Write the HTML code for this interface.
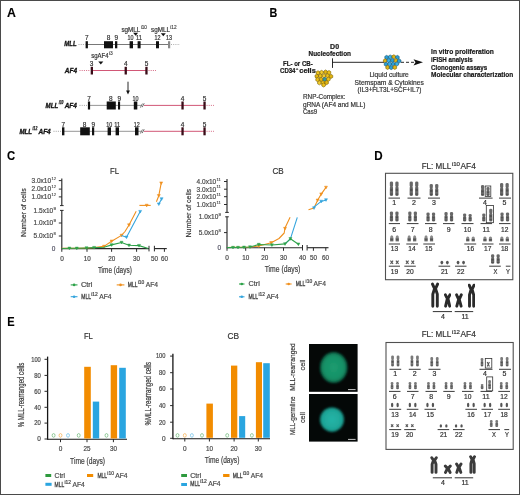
<!DOCTYPE html>
<html><head><meta charset="utf-8"><style>
html,body{margin:0;padding:0;background:#fff;}
#c{position:relative;width:520px;height:495px;overflow:hidden;}
svg{display:block;font-family:"Liberation Sans", sans-serif;filter:blur(0.3px);}
</style></head><body><div id="c">
<svg width="520" height="495" viewBox="0 0 520 495">
<defs><radialGradient id="g1" cx="50%" cy="50%" r="50%"><stop offset="0" stop-color="#1c9c70"/><stop offset="0.75" stop-color="#169066"/><stop offset="1" stop-color="#0b5a40"/></radialGradient><radialGradient id="g2" cx="50%" cy="50%" r="50%"><stop offset="0" stop-color="#25b5a8"/><stop offset="0.8" stop-color="#1ea698"/><stop offset="1" stop-color="#117468"/></radialGradient><filter id="bl" x="-20%" y="-20%" width="140%" height="140%"><feGaussianBlur stdDeviation="0.9"/></filter><filter id="bl2" x="-20%" y="-20%" width="140%" height="140%"><feGaussianBlur stdDeviation="0.55"/></filter><filter id="bl4" x="-30%" y="-30%" width="160%" height="160%"><feGaussianBlur stdDeviation="0.75"/></filter><filter id="bl3" x="-30%" y="-30%" width="160%" height="160%"><feGaussianBlur stdDeviation="0.3"/></filter></defs>
<rect x="0" y="0" width="520" height="495" fill="#fff"/>
<text x="6.90" y="16.80" font-size="12" font-weight="bold" fill="#000" stroke="#000" stroke-width="0.1" textLength="8.9" lengthAdjust="spacingAndGlyphs" >A</text>
<text x="64.30" y="46.00" font-size="7.6" font-weight="bold" font-style="italic" fill="#111" stroke="#111" stroke-width="0.35" textLength="12.3" lengthAdjust="spacingAndGlyphs" >MLL</text>
<line x1="78.5" y1="44.5" x2="85.5" y2="44.5" stroke="#888" stroke-width="0.8" stroke-dasharray="1,1.2"/>
<line x1="87" y1="44.5" x2="168" y2="44.5" stroke="#555" stroke-width="0.8" />
<line x1="171" y1="44.5" x2="180" y2="44.5" stroke="#999" stroke-width="0.8" stroke-dasharray="1,1.2"/>
<rect x="85.60" y="41.20" width="2.30" height="7.10" fill="#111" />
<rect x="104.00" y="41.20" width="9.00" height="7.10" fill="#111" />
<rect x="115.00" y="41.20" width="2.30" height="7.10" fill="#111" />
<rect x="129.60" y="41.20" width="3.40" height="7.10" fill="#111" />
<rect x="137.60" y="41.20" width="3.00" height="7.10" fill="#111" />
<rect x="156.00" y="41.20" width="3.00" height="7.10" fill="#111" />
<rect x="168.00" y="41.20" width="2.20" height="7.10" fill="#8a8a8a" />
<text x="86.80" y="40.10" font-size="6.8" text-anchor="middle" fill="#333" stroke="#333" stroke-width="0.2" textLength="3.6" lengthAdjust="spacingAndGlyphs" >7</text>
<text x="108.60" y="40.10" font-size="6.8" text-anchor="middle" fill="#333" stroke="#333" stroke-width="0.2" textLength="3.6" lengthAdjust="spacingAndGlyphs" >8</text>
<text x="116.20" y="40.10" font-size="6.8" text-anchor="middle" fill="#333" stroke="#333" stroke-width="0.2" textLength="3.6" lengthAdjust="spacingAndGlyphs" >9</text>
<text x="130.60" y="40.10" font-size="6.8" text-anchor="middle" fill="#333" stroke="#333" stroke-width="0.2" textLength="6.0" lengthAdjust="spacingAndGlyphs" >10</text>
<text x="139.00" y="40.10" font-size="6.8" text-anchor="middle" fill="#333" stroke="#333" stroke-width="0.2" textLength="6.0" lengthAdjust="spacingAndGlyphs" >11</text>
<text x="157.50" y="40.10" font-size="6.8" text-anchor="middle" fill="#333" stroke="#333" stroke-width="0.2" textLength="6.0" lengthAdjust="spacingAndGlyphs" >12</text>
<text x="168.90" y="40.10" font-size="6.8" text-anchor="middle" fill="#333" stroke="#333" stroke-width="0.2" textLength="6.0" lengthAdjust="spacingAndGlyphs" >13</text>
<text x="121.40" y="32.10" font-size="6.8" fill="#333" stroke="#333" stroke-width="0.2" textLength="18.9" lengthAdjust="spacingAndGlyphs" >sgMLL</text>
<text x="140.70" y="28.90" font-size="4.8" fill="#444" stroke="#444" stroke-width="0.15" textLength="6.3" lengthAdjust="spacingAndGlyphs" >i10</text>
<text x="151.00" y="32.10" font-size="6.8" fill="#333" stroke="#333" stroke-width="0.2" textLength="18.9" lengthAdjust="spacingAndGlyphs" >sgMLL</text>
<text x="170.30" y="28.90" font-size="4.8" fill="#444" stroke="#444" stroke-width="0.15" textLength="6.3" lengthAdjust="spacingAndGlyphs" >i12</text>
<path d="M133.1 32.7 L138.1 32.7 L135.6 35.8 Z" fill="#111"/>
<path d="M160.8 33.2 L165.8 33.2 L163.3 36.2 Z" fill="#111"/>
<text x="64.80" y="72.50" font-size="7.6" font-weight="bold" font-style="italic" fill="#111" stroke="#111" stroke-width="0.35" textLength="12.2" lengthAdjust="spacingAndGlyphs" >AF4</text>
<line x1="79.5" y1="70.5" x2="90" y2="70.5" stroke="#cc4466" stroke-width="0.8" stroke-dasharray="1,1.2"/>
<line x1="91" y1="70.5" x2="147" y2="70.5" stroke="#cc4466" stroke-width="0.9" />
<line x1="148.5" y1="70.5" x2="156" y2="70.5" stroke="#cc4466" stroke-width="0.8" stroke-dasharray="1,1.2"/>
<rect x="90.70" y="66.80" width="2.30" height="7.70" fill="#3a0c18" />
<rect x="124.60" y="66.80" width="2.30" height="7.70" fill="#3a0c18" />
<rect x="145.30" y="66.80" width="2.30" height="7.70" fill="#3a0c18" />
<text x="91.60" y="65.60" font-size="6.8" text-anchor="middle" fill="#333" stroke="#333" stroke-width="0.2" textLength="3.6" lengthAdjust="spacingAndGlyphs" >3</text>
<text x="125.90" y="65.60" font-size="6.8" text-anchor="middle" fill="#333" stroke="#333" stroke-width="0.2" textLength="3.6" lengthAdjust="spacingAndGlyphs" >4</text>
<text x="146.50" y="65.60" font-size="6.8" text-anchor="middle" fill="#333" stroke="#333" stroke-width="0.2" textLength="3.6" lengthAdjust="spacingAndGlyphs" >5</text>
<text x="91.30" y="58.40" font-size="6.8" fill="#333" stroke="#333" stroke-width="0.2" textLength="17.2" lengthAdjust="spacingAndGlyphs" >sgAF4</text>
<text x="108.90" y="55.20" font-size="4.8" fill="#444" stroke="#444" stroke-width="0.15" textLength="3.8" lengthAdjust="spacingAndGlyphs" >i3</text>
<path d="M98.3 61.4 L103.3 61.4 L100.8 64.5 Z" fill="#111"/>
<line x1="128" y1="81.7" x2="128" y2="91.5" stroke="#111" stroke-width="0.9" />
<path d="M126.1 90.4 L129.9 90.4 L128 94.4 Z" fill="#111"/>
<text x="45.60" y="107.60" font-size="7.6" font-weight="bold" font-style="italic" fill="#111" stroke="#111" stroke-width="0.35" textLength="12.6" lengthAdjust="spacingAndGlyphs" >MLL</text>
<text x="58.70" y="104.20" font-size="4.8" font-weight="bold" font-style="italic" fill="#222" stroke="#222" stroke-width="0.25" textLength="4.8" lengthAdjust="spacingAndGlyphs" >i10</text>
<text x="64.70" y="107.60" font-size="7.6" font-weight="bold" font-style="italic" fill="#111" stroke="#111" stroke-width="0.35" textLength="12.2" lengthAdjust="spacingAndGlyphs" >AF4</text>
<line x1="79.5" y1="105.4" x2="87" y2="105.4" stroke="#888" stroke-width="0.8" stroke-dasharray="1,1.2"/>
<line x1="88" y1="105.4" x2="141" y2="105.4" stroke="#8a8a8a" stroke-width="0.9" />
<line x1="144" y1="105.4" x2="205" y2="105.4" stroke="#cc4466" stroke-width="0.9" />
<line x1="206.5" y1="105.4" x2="214" y2="105.4" stroke="#cc4466" stroke-width="0.8" stroke-dasharray="1,1.2"/>
<rect x="87.90" y="101.50" width="2.20" height="8.00" fill="#111" />
<rect x="106.70" y="101.50" width="9.10" height="8.00" fill="#111" />
<rect x="118.00" y="101.50" width="2.10" height="8.00" fill="#111" />
<rect x="133.80" y="101.50" width="3.50" height="8.00" fill="#111" />
<rect x="181.40" y="101.50" width="2.30" height="8.00" fill="#3a0c18" />
<rect x="203.40" y="101.50" width="2.30" height="8.00" fill="#3a0c18" />
<path d="M140.4 107.6 L142.4 103.6 M142.2 107.2 L144.2 103.2" stroke="#333" stroke-width="0.7" fill="none"/>
<text x="89.00" y="100.90" font-size="6.8" text-anchor="middle" fill="#333" stroke="#333" stroke-width="0.2" textLength="3.6" lengthAdjust="spacingAndGlyphs" >7</text>
<text x="110.80" y="100.90" font-size="6.8" text-anchor="middle" fill="#333" stroke="#333" stroke-width="0.2" textLength="3.6" lengthAdjust="spacingAndGlyphs" >8</text>
<text x="119.20" y="100.90" font-size="6.8" text-anchor="middle" fill="#333" stroke="#333" stroke-width="0.2" textLength="3.6" lengthAdjust="spacingAndGlyphs" >9</text>
<text x="135.60" y="100.90" font-size="6.8" text-anchor="middle" fill="#333" stroke="#333" stroke-width="0.2" textLength="6.0" lengthAdjust="spacingAndGlyphs" >10</text>
<text x="182.50" y="100.90" font-size="6.8" text-anchor="middle" fill="#333" stroke="#333" stroke-width="0.2" textLength="3.6" lengthAdjust="spacingAndGlyphs" >4</text>
<text x="204.50" y="100.90" font-size="6.8" text-anchor="middle" fill="#333" stroke="#333" stroke-width="0.2" textLength="3.6" lengthAdjust="spacingAndGlyphs" >5</text>
<text x="19.40" y="133.50" font-size="7.6" font-weight="bold" font-style="italic" fill="#111" stroke="#111" stroke-width="0.35" textLength="12.6" lengthAdjust="spacingAndGlyphs" >MLL</text>
<text x="32.50" y="130.10" font-size="4.8" font-weight="bold" font-style="italic" fill="#222" stroke="#222" stroke-width="0.25" textLength="4.8" lengthAdjust="spacingAndGlyphs" >i12</text>
<text x="38.50" y="133.50" font-size="7.6" font-weight="bold" font-style="italic" fill="#111" stroke="#111" stroke-width="0.35" textLength="12.2" lengthAdjust="spacingAndGlyphs" >AF4</text>
<line x1="53.5" y1="131.3" x2="61.5" y2="131.3" stroke="#888" stroke-width="0.8" stroke-dasharray="1,1.2"/>
<line x1="62" y1="131.3" x2="141" y2="131.3" stroke="#8a8a8a" stroke-width="0.9" />
<line x1="144" y1="131.3" x2="205" y2="131.3" stroke="#cc4466" stroke-width="0.9" />
<line x1="206.5" y1="131.3" x2="214" y2="131.3" stroke="#cc4466" stroke-width="0.8" stroke-dasharray="1,1.2"/>
<rect x="62.00" y="127.30" width="2.40" height="8.00" fill="#111" />
<rect x="80.20" y="127.30" width="9.60" height="8.00" fill="#111" />
<rect x="92.00" y="127.30" width="2.20" height="8.00" fill="#111" />
<rect x="107.60" y="127.30" width="3.40" height="8.00" fill="#111" />
<rect x="115.60" y="127.30" width="3.40" height="8.00" fill="#111" />
<rect x="135.00" y="127.30" width="3.50" height="8.00" fill="#111" />
<rect x="181.40" y="127.30" width="2.30" height="8.00" fill="#3a0c18" />
<rect x="203.40" y="127.30" width="2.30" height="8.00" fill="#3a0c18" />
<path d="M140.4 133.5 L142.4 129.5 M142.2 133.1 L144.2 129.1" stroke="#333" stroke-width="0.7" fill="none"/>
<text x="63.20" y="126.80" font-size="6.8" text-anchor="middle" fill="#333" stroke="#333" stroke-width="0.2" textLength="3.6" lengthAdjust="spacingAndGlyphs" >7</text>
<text x="84.60" y="126.80" font-size="6.8" text-anchor="middle" fill="#333" stroke="#333" stroke-width="0.2" textLength="3.6" lengthAdjust="spacingAndGlyphs" >8</text>
<text x="93.20" y="126.80" font-size="6.8" text-anchor="middle" fill="#333" stroke="#333" stroke-width="0.2" textLength="3.6" lengthAdjust="spacingAndGlyphs" >9</text>
<text x="109.30" y="126.80" font-size="6.8" text-anchor="middle" fill="#333" stroke="#333" stroke-width="0.2" textLength="6.0" lengthAdjust="spacingAndGlyphs" >10</text>
<text x="117.30" y="126.80" font-size="6.8" text-anchor="middle" fill="#333" stroke="#333" stroke-width="0.2" textLength="6.0" lengthAdjust="spacingAndGlyphs" >11</text>
<text x="136.80" y="126.80" font-size="6.8" text-anchor="middle" fill="#333" stroke="#333" stroke-width="0.2" textLength="6.0" lengthAdjust="spacingAndGlyphs" >12</text>
<text x="182.50" y="126.80" font-size="6.8" text-anchor="middle" fill="#333" stroke="#333" stroke-width="0.2" textLength="3.6" lengthAdjust="spacingAndGlyphs" >4</text>
<text x="204.50" y="126.80" font-size="6.8" text-anchor="middle" fill="#333" stroke="#333" stroke-width="0.2" textLength="3.6" lengthAdjust="spacingAndGlyphs" >5</text>
<text x="269.60" y="16.70" font-size="12" font-weight="bold" fill="#000" stroke="#000" stroke-width="0.1" textLength="7.8" lengthAdjust="spacingAndGlyphs" >B</text>
<text x="334.60" y="48.60" font-size="7" text-anchor="middle" font-weight="bold" fill="#1a1a1a" stroke="#1a1a1a" stroke-width="0.22" textLength="9" lengthAdjust="spacingAndGlyphs" >D0</text>
<text x="308.50" y="56.40" font-size="7" font-weight="bold" fill="#1a1a1a" stroke="#1a1a1a" stroke-width="0.22" textLength="42.5" lengthAdjust="spacingAndGlyphs" >Nucleofection</text>
<text x="283.00" y="66.00" font-size="7" font-weight="bold" fill="#1a1a1a" stroke="#1a1a1a" stroke-width="0.22" textLength="29.7" lengthAdjust="spacingAndGlyphs" >FL- or CB-</text>
<text x="280.00" y="73.30" font-size="7" font-weight="bold" fill="#1a1a1a" stroke="#1a1a1a" stroke-width="0.22" textLength="15.5" lengthAdjust="spacingAndGlyphs" >CD34</text>
<text x="295.80" y="70.00" font-size="4.4" font-weight="bold" fill="#1a1a1a" stroke="#1a1a1a" stroke-width="0.15" >+</text>
<text x="299.30" y="73.30" font-size="7" font-weight="bold" fill="#1a1a1a" stroke="#1a1a1a" stroke-width="0.22" textLength="16.5" lengthAdjust="spacingAndGlyphs" >cells</text>
<line x1="332.5" y1="58.3" x2="332.5" y2="67.9" stroke="#111" stroke-width="0.9" />
<line x1="332.5" y1="62.3" x2="384" y2="62.3" stroke="#111" stroke-width="0.9" />
<path d="M401 62.3 L414 62.3" stroke="#111" stroke-width="0.9" stroke-dasharray="3,2"/>
<path d="M413.5 59.2 L423 62.3 L413.5 65.4 L415.5 62.3 Z" fill="#111"/>
<text x="303.00" y="99.10" font-size="7" fill="#333" stroke="#333" stroke-width="0.2" textLength="42.4" lengthAdjust="spacingAndGlyphs" >RNP-Complex:</text>
<text x="303.00" y="106.60" font-size="7" fill="#333" stroke="#333" stroke-width="0.2" textLength="62.4" lengthAdjust="spacingAndGlyphs" >gRNA (AF4 and MLL)</text>
<text x="303.00" y="113.70" font-size="7" fill="#333" stroke="#333" stroke-width="0.2" textLength="14" lengthAdjust="spacingAndGlyphs" >Cas9</text>
<text x="389.10" y="76.90" font-size="7" text-anchor="middle" fill="#333" stroke="#333" stroke-width="0.2" textLength="39.4" lengthAdjust="spacingAndGlyphs" >Liquid culture</text>
<text x="389.20" y="85.00" font-size="7" text-anchor="middle" fill="#333" stroke="#333" stroke-width="0.2" textLength="69.2" lengthAdjust="spacingAndGlyphs" >Stemspam &amp; Cytokines</text>
<text x="389.40" y="92.30" font-size="7" text-anchor="middle" fill="#333" stroke="#333" stroke-width="0.2" textLength="63.8" lengthAdjust="spacingAndGlyphs" >(IL3+FLT3L+SCF+IL7)</text>
<text x="431.10" y="53.80" font-size="7.2" font-weight="bold" fill="#1a1a1a" stroke="#1a1a1a" stroke-width="0.22" textLength="62.8" lengthAdjust="spacingAndGlyphs" >In vitro proliferation</text>
<text x="431.10" y="61.65" font-size="7.2" font-weight="bold" fill="#1a1a1a" stroke="#1a1a1a" stroke-width="0.22" textLength="41.7" lengthAdjust="spacingAndGlyphs" >iFISH analysis</text>
<text x="431.10" y="69.50" font-size="7.2" font-weight="bold" fill="#1a1a1a" stroke="#1a1a1a" stroke-width="0.22" textLength="56.1" lengthAdjust="spacingAndGlyphs" >Clonogenic assays</text>
<text x="431.10" y="77.35" font-size="7.2" font-weight="bold" fill="#1a1a1a" stroke="#1a1a1a" stroke-width="0.22" textLength="82.1" lengthAdjust="spacingAndGlyphs" >Molecular characterization</text>
<polygon points="319.78,73.83 318.00,74.85 316.22,73.83 316.22,71.77 318.00,70.75 319.78,71.77" fill="#eec21a" stroke="#7a6200" stroke-width="0.6"/>
<polygon points="323.38,73.43 321.60,74.45 319.82,73.43 319.82,71.38 321.60,70.35 323.38,71.38" fill="#f2cc30" stroke="#7a6200" stroke-width="0.6"/>
<polygon points="327.38,73.03 325.60,74.05 323.82,73.03 323.82,70.97 325.60,69.95 327.38,70.97" fill="#e2b410" stroke="#7a6200" stroke-width="0.6"/>
<polygon points="330.78,73.62 329.00,74.65 327.22,73.62 327.22,71.57 329.00,70.55 330.78,71.57" fill="#eec21a" stroke="#7a6200" stroke-width="0.6"/>
<polygon points="318.58,77.23 316.80,78.25 315.02,77.23 315.02,75.17 316.80,74.15 318.58,75.17" fill="#e2b410" stroke="#7a6200" stroke-width="0.6"/>
<polygon points="322.18,77.03 320.40,78.05 318.62,77.03 318.62,74.97 320.40,73.95 322.18,74.97" fill="#eec21a" stroke="#7a6200" stroke-width="0.6"/>
<polygon points="325.78,76.83 324.00,77.85 322.22,76.83 322.22,74.77 324.00,73.75 325.78,74.77" fill="#f2cc30" stroke="#7a6200" stroke-width="0.6"/>
<polygon points="329.38,76.83 327.60,77.85 325.82,76.83 325.82,74.77 327.60,73.75 329.38,74.77" fill="#eec21a" stroke="#7a6200" stroke-width="0.6"/>
<polygon points="332.78,77.43 331.00,78.45 329.22,77.43 329.22,75.38 331.00,74.35 332.78,75.38" fill="#e2b410" stroke="#7a6200" stroke-width="0.6"/>
<polygon points="319.38,80.62 317.60,81.65 315.82,80.62 315.82,78.57 317.60,77.55 319.38,78.57" fill="#eec21a" stroke="#7a6200" stroke-width="0.6"/>
<polygon points="322.98,80.43 321.20,81.45 319.42,80.43 319.42,78.38 321.20,77.35 322.98,78.38" fill="#e2b410" stroke="#7a6200" stroke-width="0.6"/>
<polygon points="326.58,80.43 324.80,81.45 323.02,80.43 323.02,78.38 324.80,77.35 326.58,78.38" fill="#3a9a9a" stroke="#1a5a7a" stroke-width="0.6"/>
<polygon points="330.18,80.23 328.40,81.25 326.62,80.23 326.62,78.17 328.40,77.15 330.18,78.17" fill="#eec21a" stroke="#7a6200" stroke-width="0.6"/>
<polygon points="321.18,83.83 319.40,84.85 317.62,83.83 317.62,81.77 319.40,80.75 321.18,81.77" fill="#f2cc30" stroke="#7a6200" stroke-width="0.6"/>
<polygon points="324.78,83.83 323.00,84.85 321.22,83.83 321.22,81.77 323.00,80.75 324.78,81.77" fill="#eec21a" stroke="#7a6200" stroke-width="0.6"/>
<polygon points="328.38,83.62 326.60,84.65 324.82,83.62 324.82,81.57 326.60,80.55 328.38,81.57" fill="#e2b410" stroke="#7a6200" stroke-width="0.6"/>
<polygon points="325.38,86.03 323.60,87.05 321.82,86.03 321.82,83.97 323.60,82.95 325.38,83.97" fill="#eec21a" stroke="#7a6200" stroke-width="0.6"/>
<polygon points="388.38,58.42 386.60,59.45 384.82,58.42 384.82,56.38 386.60,55.35 388.38,56.38" fill="#2a9fd6" stroke="#1a5a7a" stroke-width="0.6"/>
<polygon points="391.98,58.02 390.20,59.05 388.42,58.02 388.42,55.98 390.20,54.95 391.98,55.98" fill="#3ab0e4" stroke="#1a5a7a" stroke-width="0.6"/>
<polygon points="395.58,57.82 393.80,58.85 392.02,57.82 392.02,55.77 393.80,54.75 395.58,55.77" fill="#dcb418" stroke="#7a6200" stroke-width="0.6"/>
<polygon points="399.18,58.42 397.40,59.45 395.62,58.42 395.62,56.38 397.40,55.35 399.18,56.38" fill="#2a9fd6" stroke="#1a5a7a" stroke-width="0.6"/>
<polygon points="386.98,61.82 385.20,62.85 383.42,61.82 383.42,59.77 385.20,58.75 386.98,59.77" fill="#dcb418" stroke="#7a6200" stroke-width="0.6"/>
<polygon points="390.58,61.62 388.80,62.65 387.02,61.62 387.02,59.58 388.80,58.55 390.58,59.58" fill="#3ab0e4" stroke="#1a5a7a" stroke-width="0.6"/>
<polygon points="394.18,61.42 392.40,62.45 390.62,61.42 390.62,59.38 392.40,58.35 394.18,59.38" fill="#2a9fd6" stroke="#1a5a7a" stroke-width="0.6"/>
<polygon points="397.78,61.62 396.00,62.65 394.22,61.62 394.22,59.58 396.00,58.55 397.78,59.58" fill="#dcb418" stroke="#7a6200" stroke-width="0.6"/>
<polygon points="400.98,62.02 399.20,63.05 397.42,62.02 397.42,59.98 399.20,58.95 400.98,59.98" fill="#2a9fd6" stroke="#1a5a7a" stroke-width="0.6"/>
<polygon points="387.78,65.23 386.00,66.25 384.22,65.23 384.22,63.18 386.00,62.15 387.78,63.18" fill="#2a9fd6" stroke="#1a5a7a" stroke-width="0.6"/>
<polygon points="391.38,65.03 389.60,66.05 387.82,65.03 387.82,62.98 389.60,61.95 391.38,62.98" fill="#3ab0e4" stroke="#1a5a7a" stroke-width="0.6"/>
<polygon points="394.98,65.03 393.20,66.05 391.42,65.03 391.42,62.98 393.20,61.95 394.98,62.98" fill="#2a9fd6" stroke="#1a5a7a" stroke-width="0.6"/>
<polygon points="398.58,65.03 396.80,66.05 395.02,65.03 395.02,62.98 396.80,61.95 398.58,62.98" fill="#3ab0e4" stroke="#1a5a7a" stroke-width="0.6"/>
<polygon points="389.38,68.43 387.60,69.45 385.82,68.43 385.82,66.38 387.60,65.35 389.38,66.38" fill="#dcb418" stroke="#7a6200" stroke-width="0.6"/>
<polygon points="392.98,68.62 391.20,69.65 389.42,68.62 389.42,66.57 391.20,65.55 392.98,66.57" fill="#2a9fd6" stroke="#1a5a7a" stroke-width="0.6"/>
<polygon points="396.58,68.43 394.80,69.45 393.02,68.43 393.02,66.38 394.80,65.35 396.58,66.38" fill="#dcb418" stroke="#7a6200" stroke-width="0.6"/>
<text x="6.90" y="160.00" font-size="12" font-weight="bold" fill="#000" stroke="#000" stroke-width="0.1" textLength="8.2" lengthAdjust="spacingAndGlyphs" >C</text>
<text x="114.60" y="173.60" font-size="9.5" text-anchor="middle" fill="#333" stroke="#333" stroke-width="0.2" textLength="9" lengthAdjust="spacingAndGlyphs" >FL</text>
<line x1="61.8" y1="178.6" x2="61.8" y2="205.5" stroke="#2a2a2a" stroke-width="1.15" />
<line x1="60" y1="205.6" x2="63.6" y2="205.6" stroke="#2a2a2a" stroke-width="1" />
<line x1="58.8" y1="180.6" x2="61.8" y2="180.6" stroke="#2a2a2a" stroke-width="1" />
<line x1="58.8" y1="189.1" x2="61.8" y2="189.1" stroke="#2a2a2a" stroke-width="1" />
<line x1="58.8" y1="196.9" x2="61.8" y2="196.9" stroke="#2a2a2a" stroke-width="1" />
<line x1="61.8" y1="210.4" x2="61.8" y2="249.2" stroke="#2a2a2a" stroke-width="1.15" />
<line x1="60" y1="210.4" x2="63.6" y2="210.4" stroke="#2a2a2a" stroke-width="1" />
<line x1="58.8" y1="223" x2="61.8" y2="223" stroke="#2a2a2a" stroke-width="1" />
<line x1="58.8" y1="236" x2="61.8" y2="236" stroke="#2a2a2a" stroke-width="1" />
<text x="51.10" y="182.90" font-size="6.8" text-anchor="end" fill="#4a4a4a" stroke="#4a4a4a" stroke-width="0.2" textLength="19.6" lengthAdjust="spacingAndGlyphs" >3.0x10</text>
<text x="51.40" y="179.80" font-size="4.2" fill="#4a4a4a" stroke="#4a4a4a" stroke-width="0.15" textLength="4.5" lengthAdjust="spacingAndGlyphs" >12</text>
<text x="51.10" y="191.40" font-size="6.8" text-anchor="end" fill="#4a4a4a" stroke="#4a4a4a" stroke-width="0.2" textLength="19.6" lengthAdjust="spacingAndGlyphs" >2.0x10</text>
<text x="51.40" y="188.30" font-size="4.2" fill="#4a4a4a" stroke="#4a4a4a" stroke-width="0.15" textLength="4.5" lengthAdjust="spacingAndGlyphs" >12</text>
<text x="51.10" y="199.20" font-size="6.8" text-anchor="end" fill="#4a4a4a" stroke="#4a4a4a" stroke-width="0.2" textLength="19.6" lengthAdjust="spacingAndGlyphs" >1.0x10</text>
<text x="51.40" y="196.10" font-size="4.2" fill="#4a4a4a" stroke="#4a4a4a" stroke-width="0.15" textLength="4.5" lengthAdjust="spacingAndGlyphs" >12</text>
<text x="53.20" y="212.90" font-size="6.8" text-anchor="end" fill="#4a4a4a" stroke="#4a4a4a" stroke-width="0.2" textLength="19.6" lengthAdjust="spacingAndGlyphs" >1.5x10</text>
<text x="53.50" y="209.80" font-size="4.2" fill="#4a4a4a" stroke="#4a4a4a" stroke-width="0.15" textLength="2.4" lengthAdjust="spacingAndGlyphs" >9</text>
<text x="53.20" y="225.30" font-size="6.8" text-anchor="end" fill="#4a4a4a" stroke="#4a4a4a" stroke-width="0.2" textLength="19.6" lengthAdjust="spacingAndGlyphs" >1.0x10</text>
<text x="53.50" y="222.20" font-size="4.2" fill="#4a4a4a" stroke="#4a4a4a" stroke-width="0.15" textLength="2.4" lengthAdjust="spacingAndGlyphs" >9</text>
<text x="53.20" y="238.30" font-size="6.8" text-anchor="end" fill="#4a4a4a" stroke="#4a4a4a" stroke-width="0.2" textLength="19.6" lengthAdjust="spacingAndGlyphs" >5.0x10</text>
<text x="53.50" y="235.20" font-size="4.2" fill="#4a4a4a" stroke="#4a4a4a" stroke-width="0.15" textLength="2.4" lengthAdjust="spacingAndGlyphs" >8</text>
<text x="55.40" y="251.10" font-size="6.8" text-anchor="end" fill="#556" stroke="#556" stroke-width="0.2" textLength="3.6" lengthAdjust="spacingAndGlyphs" >0</text>
<text x="23.10" y="212.60" font-size="8" text-anchor="middle" fill="#3a3a3a" stroke="#3a3a3a" stroke-width="0.2" textLength="48.6" lengthAdjust="spacingAndGlyphs" transform="rotate(-90 23.1 212.6) translate(0 2.9)">Number of cells</text>
<line x1="61.8" y1="248.6" x2="149" y2="248.6" stroke="#2a2a2a" stroke-width="1.15" />
<line x1="149" y1="245.8" x2="149" y2="251.4" stroke="#2a2a2a" stroke-width="1" />
<line x1="154.4" y1="248.6" x2="166.8" y2="248.6" stroke="#2a2a2a" stroke-width="1.15" />
<line x1="154.4" y1="245.8" x2="154.4" y2="251.4" stroke="#2a2a2a" stroke-width="1" />
<line x1="61.8" y1="248.6" x2="61.8" y2="251.8" stroke="#2a2a2a" stroke-width="1" />
<line x1="87" y1="248.6" x2="87" y2="251.8" stroke="#2a2a2a" stroke-width="1" />
<line x1="111.6" y1="248.6" x2="111.6" y2="251.8" stroke="#2a2a2a" stroke-width="1" />
<line x1="136.6" y1="248.6" x2="136.6" y2="251.8" stroke="#2a2a2a" stroke-width="1" />
<line x1="164.4" y1="248.6" x2="164.4" y2="251.8" stroke="#2a2a2a" stroke-width="1" />
<text x="62.00" y="260.60" font-size="6.8" text-anchor="middle" fill="#4a4a4a" stroke="#4a4a4a" stroke-width="0.2" textLength="3.6" lengthAdjust="spacingAndGlyphs" >0</text>
<text x="87.20" y="260.60" font-size="6.8" text-anchor="middle" fill="#4a4a4a" stroke="#4a4a4a" stroke-width="0.2" textLength="7.0" lengthAdjust="spacingAndGlyphs" >10</text>
<text x="111.70" y="260.60" font-size="6.8" text-anchor="middle" fill="#4a4a4a" stroke="#4a4a4a" stroke-width="0.2" textLength="7.0" lengthAdjust="spacingAndGlyphs" >20</text>
<text x="136.40" y="260.60" font-size="6.8" text-anchor="middle" fill="#4a4a4a" stroke="#4a4a4a" stroke-width="0.2" textLength="7.0" lengthAdjust="spacingAndGlyphs" >30</text>
<text x="154.40" y="260.60" font-size="6.8" text-anchor="middle" fill="#4a4a4a" stroke="#4a4a4a" stroke-width="0.2" textLength="7.0" lengthAdjust="spacingAndGlyphs" >50</text>
<text x="164.40" y="260.60" font-size="6.8" text-anchor="middle" fill="#4a4a4a" stroke="#4a4a4a" stroke-width="0.2" textLength="7.0" lengthAdjust="spacingAndGlyphs" >60</text>
<text x="114.85" y="272.90" font-size="8.8" text-anchor="middle" fill="#404040" stroke="#404040" stroke-width="0.2" textLength="33.9" lengthAdjust="spacingAndGlyphs" >Time (days)</text>
<polyline points="61.8,248.4 69.4,248.3 76.8,248.3 86.5,248 94.1,247.6 104,246.4 111.6,241.2 121.5,235.4 125,231.5 129,225 136.2,211.3" fill="none" stroke="#f0901e" stroke-width="1.1" stroke-linejoin="round"/>
<path d="M102.50 245.20 L105.50 245.20 L104.00 247.90 Z" fill="#f0901e" stroke="#f0901e" stroke-width="0.5" stroke-linejoin="round"/>
<path d="M110.10 240.00 L113.10 240.00 L111.60 242.70 Z" fill="#f0901e" stroke="#f0901e" stroke-width="0.5" stroke-linejoin="round"/>
<path d="M120.00 234.20 L123.00 234.20 L121.50 236.90 Z" fill="#f0901e" stroke="#f0901e" stroke-width="0.5" stroke-linejoin="round"/>
<path d="M127.50 223.80 L130.50 223.80 L129.00 226.50 Z" fill="#f0901e" stroke="#f0901e" stroke-width="0.5" stroke-linejoin="round"/>
<polyline points="121.5,235.4 126.5,237.2 140.2,211.6" fill="none" stroke="#35a5dd" stroke-width="1.1" stroke-linejoin="round"/>
<path d="M125.00 236.00 L128.00 236.00 L126.50 238.70 Z" fill="#35a5dd" stroke="#35a5dd" stroke-width="0.5" stroke-linejoin="round"/>
<path d="M138.70 210.40 L141.70 210.40 L140.20 213.10 Z" fill="#35a5dd" stroke="#35a5dd" stroke-width="0.5" stroke-linejoin="round"/>
<polyline points="61.8,248.5 69.4,248.3 76.8,248.3 86.5,248 94.1,247.6 104,247.2 111.6,244.9 121.5,242.5 129,245.3 139,245.6 148.3,248.5" fill="none" stroke="#2ea24a" stroke-width="1.1" stroke-linejoin="round"/>
<path d="M67.90 247.10 L70.90 247.10 L69.40 249.80 Z" fill="#2ea24a" stroke="#2ea24a" stroke-width="0.5" stroke-linejoin="round"/>
<path d="M75.30 247.10 L78.30 247.10 L76.80 249.80 Z" fill="#2ea24a" stroke="#2ea24a" stroke-width="0.5" stroke-linejoin="round"/>
<path d="M85.00 246.80 L88.00 246.80 L86.50 249.50 Z" fill="#2ea24a" stroke="#2ea24a" stroke-width="0.5" stroke-linejoin="round"/>
<path d="M92.60 246.40 L95.60 246.40 L94.10 249.10 Z" fill="#2ea24a" stroke="#2ea24a" stroke-width="0.5" stroke-linejoin="round"/>
<path d="M110.10 243.70 L113.10 243.70 L111.60 246.40 Z" fill="#2ea24a" stroke="#2ea24a" stroke-width="0.5" stroke-linejoin="round"/>
<path d="M120.00 241.30 L123.00 241.30 L121.50 244.00 Z" fill="#2ea24a" stroke="#2ea24a" stroke-width="0.5" stroke-linejoin="round"/>
<path d="M127.50 244.10 L130.50 244.10 L129.00 246.80 Z" fill="#2ea24a" stroke="#2ea24a" stroke-width="0.5" stroke-linejoin="round"/>
<path d="M137.50 244.40 L140.50 244.40 L139.00 247.10 Z" fill="#2ea24a" stroke="#2ea24a" stroke-width="0.5" stroke-linejoin="round"/>
<polyline points="139.4,205.4 150.7,205.4" fill="none" stroke="#f0901e" stroke-width="1.1" stroke-linejoin="round"/>
<path d="M145.20 204.20 L148.20 204.20 L146.70 206.90 Z" fill="#f0901e" stroke="#f0901e" stroke-width="0.5" stroke-linejoin="round"/>
<polyline points="156.4,201.7 158.8,195.7 161.2,183.1" fill="none" stroke="#f0901e" stroke-width="1.1" stroke-linejoin="round"/>
<path d="M157.30 194.50 L160.30 194.50 L158.80 197.20 Z" fill="#f0901e" stroke="#f0901e" stroke-width="0.5" stroke-linejoin="round"/>
<path d="M159.70 181.90 L162.70 181.90 L161.20 184.60 Z" fill="#f0901e" stroke="#f0901e" stroke-width="0.5" stroke-linejoin="round"/>
<polyline points="158.8,204.1 161.6,198.9" fill="none" stroke="#35a5dd" stroke-width="1.1" stroke-linejoin="round"/>
<path d="M157.30 202.90 L160.30 202.90 L158.80 205.60 Z" fill="#35a5dd" stroke="#35a5dd" stroke-width="0.5" stroke-linejoin="round"/>
<path d="M160.10 197.70 L163.10 197.70 L161.60 200.40 Z" fill="#35a5dd" stroke="#35a5dd" stroke-width="0.5" stroke-linejoin="round"/>
<line x1="70.7" y1="284.9" x2="77.5" y2="284.9" stroke="#2ea24a" stroke-width="1.1" />
<circle cx="74.1" cy="284.9" r="1.3" fill="#2ea24a"/>
<text x="80.90" y="286.70" font-size="7" fill="#4a4a4a" stroke="#4a4a4a" stroke-width="0.2" textLength="11.6" lengthAdjust="spacingAndGlyphs" >Ctrl</text>
<line x1="116.7" y1="284.9" x2="124.4" y2="284.9" stroke="#f0901e" stroke-width="1.1" />
<circle cx="120.55000000000001" cy="284.9" r="1.3" fill="#f0901e"/>
<text x="127.80" y="286.70" font-size="7" fill="#4a4a4a" stroke="#4a4a4a" stroke-width="0.38" textLength="9.6" lengthAdjust="spacingAndGlyphs" >MLL</text>
<text x="137.70" y="283.70" font-size="4.8" fill="#4a4a4a" stroke="#4a4a4a" stroke-width="0.22" textLength="6.6" lengthAdjust="spacingAndGlyphs" >i10</text>
<text x="145.70" y="286.70" font-size="7" fill="#4a4a4a" stroke="#4a4a4a" stroke-width="0.2" textLength="12.3" lengthAdjust="spacingAndGlyphs" >AF4</text>
<line x1="70.7" y1="296.7" x2="77.5" y2="296.7" stroke="#35a5dd" stroke-width="1.1" />
<circle cx="74.1" cy="296.7" r="1.3" fill="#35a5dd"/>
<text x="81.30" y="298.80" font-size="7" fill="#4a4a4a" stroke="#4a4a4a" stroke-width="0.38" textLength="9.6" lengthAdjust="spacingAndGlyphs" >MLL</text>
<text x="91.20" y="295.80" font-size="4.8" fill="#4a4a4a" stroke="#4a4a4a" stroke-width="0.22" textLength="6.6" lengthAdjust="spacingAndGlyphs" >i12</text>
<text x="99.20" y="298.80" font-size="7" fill="#4a4a4a" stroke="#4a4a4a" stroke-width="0.2" textLength="12.3" lengthAdjust="spacingAndGlyphs" >AF4</text>
<text x="278.10" y="174.20" font-size="9.5" text-anchor="middle" fill="#333" stroke="#333" stroke-width="0.2" textLength="11.2" lengthAdjust="spacingAndGlyphs" >CB</text>
<line x1="227" y1="179.0" x2="227" y2="212.4" stroke="#2a2a2a" stroke-width="1.15" />
<line x1="225.2" y1="212.4" x2="228.8" y2="212.4" stroke="#2a2a2a" stroke-width="1" />
<line x1="224" y1="181.5" x2="227" y2="181.5" stroke="#2a2a2a" stroke-width="1" />
<line x1="224" y1="189.2" x2="227" y2="189.2" stroke="#2a2a2a" stroke-width="1" />
<line x1="224" y1="196.7" x2="227" y2="196.7" stroke="#2a2a2a" stroke-width="1" />
<line x1="224" y1="204.5" x2="227" y2="204.5" stroke="#2a2a2a" stroke-width="1" />
<line x1="227" y1="216.8" x2="227" y2="248.2" stroke="#2a2a2a" stroke-width="1.15" />
<line x1="225.2" y1="216.8" x2="228.8" y2="216.8" stroke="#2a2a2a" stroke-width="1" />
<line x1="224" y1="232.6" x2="227" y2="232.6" stroke="#2a2a2a" stroke-width="1" />
<text x="216.20" y="183.80" font-size="6.8" text-anchor="end" fill="#4a4a4a" stroke="#4a4a4a" stroke-width="0.2" textLength="19.6" lengthAdjust="spacingAndGlyphs" >4.0x10</text>
<text x="216.50" y="180.70" font-size="4.2" fill="#4a4a4a" stroke="#4a4a4a" stroke-width="0.15" textLength="4.5" lengthAdjust="spacingAndGlyphs" >11</text>
<text x="216.20" y="191.50" font-size="6.8" text-anchor="end" fill="#4a4a4a" stroke="#4a4a4a" stroke-width="0.2" textLength="19.6" lengthAdjust="spacingAndGlyphs" >3.0x10</text>
<text x="216.50" y="188.40" font-size="4.2" fill="#4a4a4a" stroke="#4a4a4a" stroke-width="0.15" textLength="4.5" lengthAdjust="spacingAndGlyphs" >11</text>
<text x="216.20" y="199.00" font-size="6.8" text-anchor="end" fill="#4a4a4a" stroke="#4a4a4a" stroke-width="0.2" textLength="19.6" lengthAdjust="spacingAndGlyphs" >2.0x10</text>
<text x="216.50" y="195.90" font-size="4.2" fill="#4a4a4a" stroke="#4a4a4a" stroke-width="0.15" textLength="4.5" lengthAdjust="spacingAndGlyphs" >11</text>
<text x="216.20" y="206.80" font-size="6.8" text-anchor="end" fill="#4a4a4a" stroke="#4a4a4a" stroke-width="0.2" textLength="19.6" lengthAdjust="spacingAndGlyphs" >1.0x10</text>
<text x="216.50" y="203.70" font-size="4.2" fill="#4a4a4a" stroke="#4a4a4a" stroke-width="0.15" textLength="4.5" lengthAdjust="spacingAndGlyphs" >11</text>
<text x="218.30" y="219.30" font-size="6.8" text-anchor="end" fill="#4a4a4a" stroke="#4a4a4a" stroke-width="0.2" textLength="19.6" lengthAdjust="spacingAndGlyphs" >1.0x10</text>
<text x="218.60" y="216.20" font-size="4.2" fill="#4a4a4a" stroke="#4a4a4a" stroke-width="0.15" textLength="2.4" lengthAdjust="spacingAndGlyphs" >9</text>
<text x="218.30" y="234.90" font-size="6.8" text-anchor="end" fill="#4a4a4a" stroke="#4a4a4a" stroke-width="0.2" textLength="19.6" lengthAdjust="spacingAndGlyphs" >5.0x10</text>
<text x="218.60" y="231.80" font-size="4.2" fill="#4a4a4a" stroke="#4a4a4a" stroke-width="0.15" textLength="2.4" lengthAdjust="spacingAndGlyphs" >8</text>
<text x="221.00" y="250.10" font-size="6.8" text-anchor="end" fill="#556" stroke="#556" stroke-width="0.2" textLength="3.6" lengthAdjust="spacingAndGlyphs" >0</text>
<text x="188.30" y="213.20" font-size="8" text-anchor="middle" fill="#3a3a3a" stroke="#3a3a3a" stroke-width="0.2" textLength="48.5" lengthAdjust="spacingAndGlyphs" transform="rotate(-90 188.3 213.2) translate(0 2.9)">Number of cells</text>
<line x1="227" y1="247.7" x2="302.5" y2="247.7" stroke="#2a2a2a" stroke-width="1.15" />
<line x1="302.5" y1="245" x2="302.5" y2="250.5" stroke="#2a2a2a" stroke-width="1" />
<line x1="307.1" y1="247.7" x2="328.5" y2="247.7" stroke="#2a2a2a" stroke-width="1.15" />
<line x1="307.1" y1="245" x2="307.1" y2="250.5" stroke="#2a2a2a" stroke-width="1" />
<line x1="227" y1="247.7" x2="227" y2="250.8" stroke="#2a2a2a" stroke-width="1" />
<line x1="245.7" y1="247.7" x2="245.7" y2="250.8" stroke="#2a2a2a" stroke-width="1" />
<line x1="264.5" y1="247.7" x2="264.5" y2="250.8" stroke="#2a2a2a" stroke-width="1" />
<line x1="283.5" y1="247.7" x2="283.5" y2="250.8" stroke="#2a2a2a" stroke-width="1" />
<line x1="313.4" y1="247.7" x2="313.4" y2="250.8" stroke="#2a2a2a" stroke-width="1" />
<line x1="325.8" y1="247.7" x2="325.8" y2="250.8" stroke="#2a2a2a" stroke-width="1" />
<text x="227.00" y="259.80" font-size="6.8" text-anchor="middle" fill="#4a4a4a" stroke="#4a4a4a" stroke-width="0.2" textLength="3.6" lengthAdjust="spacingAndGlyphs" >0</text>
<text x="245.80" y="259.80" font-size="6.8" text-anchor="middle" fill="#4a4a4a" stroke="#4a4a4a" stroke-width="0.2" textLength="7.0" lengthAdjust="spacingAndGlyphs" >10</text>
<text x="264.70" y="259.80" font-size="6.8" text-anchor="middle" fill="#4a4a4a" stroke="#4a4a4a" stroke-width="0.2" textLength="7.0" lengthAdjust="spacingAndGlyphs" >20</text>
<text x="283.50" y="259.80" font-size="6.8" text-anchor="middle" fill="#4a4a4a" stroke="#4a4a4a" stroke-width="0.2" textLength="7.0" lengthAdjust="spacingAndGlyphs" >30</text>
<text x="302.50" y="259.80" font-size="6.8" text-anchor="middle" fill="#4a4a4a" stroke="#4a4a4a" stroke-width="0.2" textLength="7.0" lengthAdjust="spacingAndGlyphs" >40</text>
<text x="313.40" y="259.80" font-size="6.8" text-anchor="middle" fill="#4a4a4a" stroke="#4a4a4a" stroke-width="0.2" textLength="7.0" lengthAdjust="spacingAndGlyphs" >50</text>
<text x="325.40" y="259.80" font-size="6.8" text-anchor="middle" fill="#4a4a4a" stroke="#4a4a4a" stroke-width="0.2" textLength="7.0" lengthAdjust="spacingAndGlyphs" >60</text>
<text x="282.50" y="271.70" font-size="8.8" text-anchor="middle" fill="#404040" stroke="#404040" stroke-width="0.2" textLength="35.6" lengthAdjust="spacingAndGlyphs" >Time (days)</text>
<polyline points="227,247.5 233,247.4 238,247.4 244,247.2 250,247 258.8,246 271.2,242.7 279,238.5 284.2,233 285,228 290.1,217.3" fill="none" stroke="#f0901e" stroke-width="1.1" stroke-linejoin="round"/>
<path d="M257.30 244.80 L260.30 244.80 L258.80 247.50 Z" fill="#f0901e" stroke="#f0901e" stroke-width="0.5" stroke-linejoin="round"/>
<path d="M269.70 241.50 L272.70 241.50 L271.20 244.20 Z" fill="#f0901e" stroke="#f0901e" stroke-width="0.5" stroke-linejoin="round"/>
<path d="M283.50 227.30 L286.50 227.30 L285.00 230.00 Z" fill="#f0901e" stroke="#f0901e" stroke-width="0.5" stroke-linejoin="round"/>
<polyline points="285,243.9 290.4,238.8 297.3,217.3" fill="none" stroke="#35a5dd" stroke-width="1.1" stroke-linejoin="round"/>
<polyline points="227,247.6 233,247.5 238,247.5 244,247.3 250,247 258.8,244.5 271.9,245 285,243.9 290.4,238.8 298.4,244.2" fill="none" stroke="#2ea24a" stroke-width="1.1" stroke-linejoin="round"/>
<path d="M231.50 246.30 L234.50 246.30 L233.00 249.00 Z" fill="#2ea24a" stroke="#2ea24a" stroke-width="0.5" stroke-linejoin="round"/>
<path d="M236.50 246.30 L239.50 246.30 L238.00 249.00 Z" fill="#2ea24a" stroke="#2ea24a" stroke-width="0.5" stroke-linejoin="round"/>
<path d="M242.50 246.10 L245.50 246.10 L244.00 248.80 Z" fill="#2ea24a" stroke="#2ea24a" stroke-width="0.5" stroke-linejoin="round"/>
<path d="M248.50 245.80 L251.50 245.80 L250.00 248.50 Z" fill="#2ea24a" stroke="#2ea24a" stroke-width="0.5" stroke-linejoin="round"/>
<path d="M257.30 243.30 L260.30 243.30 L258.80 246.00 Z" fill="#2ea24a" stroke="#2ea24a" stroke-width="0.5" stroke-linejoin="round"/>
<path d="M270.40 243.80 L273.40 243.80 L271.90 246.50 Z" fill="#2ea24a" stroke="#2ea24a" stroke-width="0.5" stroke-linejoin="round"/>
<path d="M283.50 242.70 L286.50 242.70 L285.00 245.40 Z" fill="#2ea24a" stroke="#2ea24a" stroke-width="0.5" stroke-linejoin="round"/>
<path d="M288.90 237.60 L291.90 237.60 L290.40 240.30 Z" fill="#2ea24a" stroke="#2ea24a" stroke-width="0.5" stroke-linejoin="round"/>
<path d="M296.90 243.00 L299.90 243.00 L298.40 245.70 Z" fill="#2ea24a" stroke="#2ea24a" stroke-width="0.5" stroke-linejoin="round"/>
<polyline points="308.5,209.8 314,208 317.6,200.2 321.2,194.1 326,187.4" fill="none" stroke="#f0901e" stroke-width="1.1" stroke-linejoin="round"/>
<path d="M316.10 199.00 L319.10 199.00 L317.60 201.70 Z" fill="#f0901e" stroke="#f0901e" stroke-width="0.5" stroke-linejoin="round"/>
<path d="M319.70 192.90 L322.70 192.90 L321.20 195.60 Z" fill="#f0901e" stroke="#f0901e" stroke-width="0.5" stroke-linejoin="round"/>
<path d="M324.50 186.20 L327.50 186.20 L326.00 188.90 Z" fill="#f0901e" stroke="#f0901e" stroke-width="0.5" stroke-linejoin="round"/>
<polyline points="313.3,207.6 321.2,201.4 326,199.9" fill="none" stroke="#35a5dd" stroke-width="1.1" stroke-linejoin="round"/>
<path d="M312.50 206.80 L315.50 206.80 L314.00 209.50 Z" fill="#35a5dd" stroke="#35a5dd" stroke-width="0.5" stroke-linejoin="round"/>
<path d="M319.70 200.20 L322.70 200.20 L321.20 202.90 Z" fill="#35a5dd" stroke="#35a5dd" stroke-width="0.5" stroke-linejoin="round"/>
<path d="M324.50 198.70 L327.50 198.70 L326.00 201.40 Z" fill="#35a5dd" stroke="#35a5dd" stroke-width="0.5" stroke-linejoin="round"/>
<line x1="239" y1="284.0" x2="244.5" y2="284.0" stroke="#2ea24a" stroke-width="1.1" />
<circle cx="241.75" cy="284.0" r="1.3" fill="#2ea24a"/>
<text x="248.50" y="286.00" font-size="7" fill="#4a4a4a" stroke="#4a4a4a" stroke-width="0.2" textLength="11.3" lengthAdjust="spacingAndGlyphs" >Ctrl</text>
<line x1="285.7" y1="284.0" x2="291.6" y2="284.0" stroke="#f0901e" stroke-width="1.1" />
<circle cx="288.65" cy="284.0" r="1.3" fill="#f0901e"/>
<text x="295.70" y="286.00" font-size="7" fill="#4a4a4a" stroke="#4a4a4a" stroke-width="0.38" textLength="9.6" lengthAdjust="spacingAndGlyphs" >MLL</text>
<text x="305.60" y="283.00" font-size="4.8" fill="#4a4a4a" stroke="#4a4a4a" stroke-width="0.22" textLength="6.6" lengthAdjust="spacingAndGlyphs" >i10</text>
<text x="313.60" y="286.00" font-size="7" fill="#4a4a4a" stroke="#4a4a4a" stroke-width="0.2" textLength="12.3" lengthAdjust="spacingAndGlyphs" >AF4</text>
<line x1="239" y1="296.8" x2="244.5" y2="296.8" stroke="#35a5dd" stroke-width="1.1" />
<circle cx="241.75" cy="296.8" r="1.3" fill="#35a5dd"/>
<text x="248.50" y="299.00" font-size="7" fill="#4a4a4a" stroke="#4a4a4a" stroke-width="0.38" textLength="9.6" lengthAdjust="spacingAndGlyphs" >MLL</text>
<text x="258.40" y="296.00" font-size="4.8" fill="#4a4a4a" stroke="#4a4a4a" stroke-width="0.22" textLength="6.6" lengthAdjust="spacingAndGlyphs" >i12</text>
<text x="266.40" y="299.00" font-size="7" fill="#4a4a4a" stroke="#4a4a4a" stroke-width="0.2" textLength="12.3" lengthAdjust="spacingAndGlyphs" >AF4</text>
<text x="374.20" y="160.00" font-size="12" font-weight="bold" fill="#000" stroke="#000" stroke-width="0.1" textLength="8.4" lengthAdjust="spacingAndGlyphs" >D</text>
<text x="421.70" y="169.10" font-size="9" fill="#333" stroke="#333" stroke-width="0.2" textLength="29.5" lengthAdjust="spacingAndGlyphs" >FL: MLL</text>
<text x="451.80" y="165.60" font-size="5.6" fill="#333" stroke="#333" stroke-width="0.2" textLength="8.2" lengthAdjust="spacingAndGlyphs" >i10</text>
<text x="460.50" y="169.10" font-size="9" fill="#333" stroke="#333" stroke-width="0.2" textLength="15.3" lengthAdjust="spacingAndGlyphs" >AF4</text>
<rect x="385.5" y="173.3" width="127.29999999999995" height="106.39999999999998" fill="none" stroke="#505050" stroke-width="1.1"/>
<line x1="388.5" y1="198.1" x2="400" y2="198.1" stroke="#3a3a3a" stroke-width="1" />
<text x="394.20" y="205.10" font-size="7" text-anchor="middle" fill="#333" stroke="#333" stroke-width="0.2" textLength="3.9" lengthAdjust="spacingAndGlyphs" >1</text>
<path d="M389.80 182.70 Q389.80 181.50 391.45 181.50 Q393.10 181.50 393.10 182.70 L393.02 185.92 L392.64 186.72 L393.02 187.52 L393.10 194.80 Q393.10 196.00 391.45 196.00 Q389.80 196.00 389.80 194.80 L389.88 187.52 L390.26 186.72 L389.88 185.92 Z" fill="#686868" filter="url(#bl3)"/>
<rect x="390.30" y="188.75" width="2.31" height="2.32" fill="#505050" filter="url(#bl3)"/>
<rect x="390.30" y="193.39" width="2.31" height="1.45" fill="#505050" filter="url(#bl3)"/>
<path d="M395.30 182.70 Q395.30 181.50 396.95 181.50 Q398.60 181.50 398.60 182.70 L398.52 185.92 L398.14 186.72 L398.52 187.52 L398.60 194.80 Q398.60 196.00 396.95 196.00 Q395.30 196.00 395.30 194.80 L395.38 187.52 L395.76 186.72 L395.38 185.92 Z" fill="#686868" filter="url(#bl3)"/>
<rect x="395.80" y="188.75" width="2.31" height="2.32" fill="#505050" filter="url(#bl3)"/>
<rect x="395.80" y="193.39" width="2.31" height="1.45" fill="#505050" filter="url(#bl3)"/>
<line x1="407.5" y1="198.1" x2="420.5" y2="198.1" stroke="#3a3a3a" stroke-width="1" />
<text x="414.00" y="205.10" font-size="7" text-anchor="middle" fill="#333" stroke="#333" stroke-width="0.2" textLength="3.9" lengthAdjust="spacingAndGlyphs" >2</text>
<path d="M409.60 182.70 Q409.60 181.50 411.25 181.50 Q412.90 181.50 412.90 182.70 L412.82 185.92 L412.44 186.72 L412.82 187.52 L412.90 194.80 Q412.90 196.00 411.25 196.00 Q409.60 196.00 409.60 194.80 L409.68 187.52 L410.06 186.72 L409.68 185.92 Z" fill="#686868" filter="url(#bl3)"/>
<rect x="410.10" y="188.75" width="2.31" height="2.32" fill="#505050" filter="url(#bl3)"/>
<rect x="410.10" y="193.39" width="2.31" height="1.45" fill="#505050" filter="url(#bl3)"/>
<path d="M415.10 182.70 Q415.10 181.50 416.75 181.50 Q418.40 181.50 418.40 182.70 L418.32 185.92 L417.94 186.72 L418.32 187.52 L418.40 194.80 Q418.40 196.00 416.75 196.00 Q415.10 196.00 415.10 194.80 L415.18 187.52 L415.56 186.72 L415.18 185.92 Z" fill="#686868" filter="url(#bl3)"/>
<rect x="415.60" y="188.75" width="2.31" height="2.32" fill="#505050" filter="url(#bl3)"/>
<rect x="415.60" y="193.39" width="2.31" height="1.45" fill="#505050" filter="url(#bl3)"/>
<line x1="428" y1="198.1" x2="440" y2="198.1" stroke="#3a3a3a" stroke-width="1" />
<text x="434.00" y="205.10" font-size="7" text-anchor="middle" fill="#333" stroke="#333" stroke-width="0.2" textLength="3.9" lengthAdjust="spacingAndGlyphs" >3</text>
<path d="M429.60 185.10 Q429.60 183.90 431.25 183.90 Q432.90 183.90 432.90 185.10 L432.82 187.46 L432.44 188.26 L432.82 189.06 L432.90 194.80 Q432.90 196.00 431.25 196.00 Q429.60 196.00 429.60 194.80 L429.68 189.06 L430.06 188.26 L429.68 187.46 Z" fill="#686868" filter="url(#bl3)"/>
<rect x="430.10" y="189.95" width="2.31" height="1.94" fill="#505050" filter="url(#bl3)"/>
<rect x="430.10" y="193.82" width="2.31" height="1.21" fill="#505050" filter="url(#bl3)"/>
<path d="M435.10 185.10 Q435.10 183.90 436.75 183.90 Q438.40 183.90 438.40 185.10 L438.32 187.46 L437.94 188.26 L438.32 189.06 L438.40 194.80 Q438.40 196.00 436.75 196.00 Q435.10 196.00 435.10 194.80 L435.18 189.06 L435.56 188.26 L435.18 187.46 Z" fill="#686868" filter="url(#bl3)"/>
<rect x="435.60" y="189.95" width="2.31" height="1.94" fill="#505050" filter="url(#bl3)"/>
<rect x="435.60" y="193.82" width="2.31" height="1.21" fill="#505050" filter="url(#bl3)"/>
<line x1="479" y1="198.1" x2="492.6" y2="198.1" stroke="#3a3a3a" stroke-width="1" />
<text x="485.00" y="205.10" font-size="7" text-anchor="middle" fill="#333" stroke="#333" stroke-width="0.2" textLength="3.9" lengthAdjust="spacingAndGlyphs" >4</text>
<path d="M480.95 186.20 Q480.95 185.00 482.60 185.00 Q484.25 185.00 484.25 186.20 L484.17 188.16 L483.79 188.96 L484.17 189.76 L484.25 194.80 Q484.25 196.00 482.60 196.00 Q480.95 196.00 480.95 194.80 L481.03 189.76 L481.41 188.96 L481.03 188.16 Z" fill="#686868" filter="url(#bl3)"/>
<rect x="481.45" y="190.50" width="2.31" height="1.76" fill="#505050" filter="url(#bl3)"/>
<rect x="481.45" y="194.02" width="2.31" height="1.10" fill="#505050" filter="url(#bl3)"/>
<path d="M486.35 188.20 Q486.35 187.00 488.00 187.00 Q489.65 187.00 489.65 188.20 L489.57 189.44 L489.19 190.24 L489.57 191.04 L489.65 194.80 Q489.65 196.00 488.00 196.00 Q486.35 196.00 486.35 194.80 L486.43 191.04 L486.81 190.24 L486.43 189.44 Z" fill="#686868" filter="url(#bl3)"/>
<rect x="486.85" y="191.50" width="2.31" height="1.44" fill="#505050" filter="url(#bl3)"/>
<rect x="486.85" y="194.38" width="2.31" height="0.90" fill="#505050" filter="url(#bl3)"/>
<line x1="499" y1="198.1" x2="511" y2="198.1" stroke="#3a3a3a" stroke-width="1" />
<text x="504.40" y="205.10" font-size="7" text-anchor="middle" fill="#333" stroke="#333" stroke-width="0.2" textLength="3.9" lengthAdjust="spacingAndGlyphs" >5</text>
<path d="M500.00 184.20 Q500.00 183.00 501.65 183.00 Q503.30 183.00 503.30 184.20 L503.22 186.88 L502.84 187.68 L503.22 188.48 L503.30 194.80 Q503.30 196.00 501.65 196.00 Q500.00 196.00 500.00 194.80 L500.08 188.48 L500.46 187.68 L500.08 186.88 Z" fill="#686868" filter="url(#bl3)"/>
<rect x="500.50" y="189.50" width="2.31" height="2.08" fill="#505050" filter="url(#bl3)"/>
<rect x="500.50" y="193.66" width="2.31" height="1.30" fill="#505050" filter="url(#bl3)"/>
<path d="M505.50 184.20 Q505.50 183.00 507.15 183.00 Q508.80 183.00 508.80 184.20 L508.72 186.88 L508.34 187.68 L508.72 188.48 L508.80 194.80 Q508.80 196.00 507.15 196.00 Q505.50 196.00 505.50 194.80 L505.58 188.48 L505.96 187.68 L505.58 186.88 Z" fill="#686868" filter="url(#bl3)"/>
<rect x="506.00" y="189.50" width="2.31" height="2.08" fill="#505050" filter="url(#bl3)"/>
<rect x="506.00" y="193.66" width="2.31" height="1.30" fill="#505050" filter="url(#bl3)"/>
<line x1="388.8" y1="223.6" x2="400" y2="223.6" stroke="#3a3a3a" stroke-width="1" />
<text x="394.20" y="232.00" font-size="7" text-anchor="middle" fill="#333" stroke="#333" stroke-width="0.2" textLength="3.9" lengthAdjust="spacingAndGlyphs" >6</text>
<path d="M389.80 212.80 Q389.80 211.60 391.45 211.60 Q393.10 211.60 393.10 212.80 L393.02 214.33 L392.64 215.13 L393.02 215.93 L393.10 220.20 Q393.10 221.40 391.45 221.40 Q389.80 221.40 389.80 220.20 L389.88 215.93 L390.26 215.13 L389.88 214.33 Z" fill="#686868" filter="url(#bl3)"/>
<rect x="390.30" y="216.50" width="2.31" height="1.57" fill="#505050" filter="url(#bl3)"/>
<rect x="390.30" y="219.64" width="2.31" height="0.98" fill="#505050" filter="url(#bl3)"/>
<path d="M395.30 212.80 Q395.30 211.60 396.95 211.60 Q398.60 211.60 398.60 212.80 L398.52 214.33 L398.14 215.13 L398.52 215.93 L398.60 220.20 Q398.60 221.40 396.95 221.40 Q395.30 221.40 395.30 220.20 L395.38 215.93 L395.76 215.13 L395.38 214.33 Z" fill="#686868" filter="url(#bl3)"/>
<rect x="395.80" y="216.50" width="2.31" height="1.57" fill="#505050" filter="url(#bl3)"/>
<rect x="395.80" y="219.64" width="2.31" height="0.98" fill="#505050" filter="url(#bl3)"/>
<line x1="406.8" y1="223.6" x2="418.5" y2="223.6" stroke="#3a3a3a" stroke-width="1" />
<text x="412.60" y="232.00" font-size="7" text-anchor="middle" fill="#333" stroke="#333" stroke-width="0.2" textLength="3.9" lengthAdjust="spacingAndGlyphs" >7</text>
<path d="M408.20 212.80 Q408.20 211.60 409.85 211.60 Q411.50 211.60 411.50 212.80 L411.42 214.33 L411.04 215.13 L411.42 215.93 L411.50 220.20 Q411.50 221.40 409.85 221.40 Q408.20 221.40 408.20 220.20 L408.28 215.93 L408.66 215.13 L408.28 214.33 Z" fill="#686868" filter="url(#bl3)"/>
<rect x="408.70" y="216.50" width="2.31" height="1.57" fill="#505050" filter="url(#bl3)"/>
<rect x="408.70" y="219.64" width="2.31" height="0.98" fill="#505050" filter="url(#bl3)"/>
<path d="M413.70 212.80 Q413.70 211.60 415.35 211.60 Q417.00 211.60 417.00 212.80 L416.92 214.33 L416.54 215.13 L416.92 215.93 L417.00 220.20 Q417.00 221.40 415.35 221.40 Q413.70 221.40 413.70 220.20 L413.78 215.93 L414.16 215.13 L413.78 214.33 Z" fill="#686868" filter="url(#bl3)"/>
<rect x="414.20" y="216.50" width="2.31" height="1.57" fill="#505050" filter="url(#bl3)"/>
<rect x="414.20" y="219.64" width="2.31" height="0.98" fill="#505050" filter="url(#bl3)"/>
<line x1="425" y1="223.6" x2="436.5" y2="223.6" stroke="#3a3a3a" stroke-width="1" />
<text x="430.80" y="232.00" font-size="7" text-anchor="middle" fill="#333" stroke="#333" stroke-width="0.2" textLength="3.9" lengthAdjust="spacingAndGlyphs" >8</text>
<path d="M426.40 213.70 Q426.40 212.50 428.05 212.50 Q429.70 212.50 429.70 213.70 L429.62 214.90 L429.24 215.70 L429.62 216.50 L429.70 220.20 Q429.70 221.40 428.05 221.40 Q426.40 221.40 426.40 220.20 L426.48 216.50 L426.86 215.70 L426.48 214.90 Z" fill="#686868" filter="url(#bl3)"/>
<rect x="426.90" y="216.95" width="2.31" height="1.42" fill="#505050" filter="url(#bl3)"/>
<rect x="426.90" y="219.80" width="2.31" height="0.89" fill="#505050" filter="url(#bl3)"/>
<path d="M431.90 213.70 Q431.90 212.50 433.55 212.50 Q435.20 212.50 435.20 213.70 L435.12 214.90 L434.74 215.70 L435.12 216.50 L435.20 220.20 Q435.20 221.40 433.55 221.40 Q431.90 221.40 431.90 220.20 L431.98 216.50 L432.36 215.70 L431.98 214.90 Z" fill="#686868" filter="url(#bl3)"/>
<rect x="432.40" y="216.95" width="2.31" height="1.42" fill="#505050" filter="url(#bl3)"/>
<rect x="432.40" y="219.80" width="2.31" height="0.89" fill="#505050" filter="url(#bl3)"/>
<line x1="443" y1="223.6" x2="454.5" y2="223.6" stroke="#3a3a3a" stroke-width="1" />
<text x="448.80" y="232.00" font-size="7" text-anchor="middle" fill="#333" stroke="#333" stroke-width="0.2" textLength="3.9" lengthAdjust="spacingAndGlyphs" >9</text>
<path d="M444.40 213.20 Q444.40 212.00 446.05 212.00 Q447.70 212.00 447.70 213.20 L447.62 214.58 L447.24 215.38 L447.62 216.18 L447.70 220.20 Q447.70 221.40 446.05 221.40 Q444.40 221.40 444.40 220.20 L444.48 216.18 L444.86 215.38 L444.48 214.58 Z" fill="#686868" filter="url(#bl3)"/>
<rect x="444.90" y="216.70" width="2.31" height="1.50" fill="#505050" filter="url(#bl3)"/>
<rect x="444.90" y="219.71" width="2.31" height="0.94" fill="#505050" filter="url(#bl3)"/>
<path d="M449.90 213.20 Q449.90 212.00 451.55 212.00 Q453.20 212.00 453.20 213.20 L453.12 214.58 L452.74 215.38 L453.12 216.18 L453.20 220.20 Q453.20 221.40 451.55 221.40 Q449.90 221.40 449.90 220.20 L449.98 216.18 L450.36 215.38 L449.98 214.58 Z" fill="#686868" filter="url(#bl3)"/>
<rect x="450.40" y="216.70" width="2.31" height="1.50" fill="#505050" filter="url(#bl3)"/>
<rect x="450.40" y="219.71" width="2.31" height="0.94" fill="#505050" filter="url(#bl3)"/>
<line x1="461.5" y1="223.6" x2="473.5" y2="223.6" stroke="#3a3a3a" stroke-width="1" />
<text x="467.40" y="232.00" font-size="7" text-anchor="middle" fill="#333" stroke="#333" stroke-width="0.2" textLength="7.4" lengthAdjust="spacingAndGlyphs" >10</text>
<path d="M463.00 214.70 Q463.00 213.50 464.65 213.50 Q466.30 213.50 466.30 214.70 L466.22 215.54 L465.84 216.34 L466.22 217.14 L466.30 220.20 Q466.30 221.40 464.65 221.40 Q463.00 221.40 463.00 220.20 L463.08 217.14 L463.46 216.34 L463.08 215.54 Z" fill="#686868" filter="url(#bl3)"/>
<rect x="463.50" y="217.45" width="2.31" height="1.26" fill="#505050" filter="url(#bl3)"/>
<rect x="463.50" y="219.98" width="2.31" height="0.79" fill="#505050" filter="url(#bl3)"/>
<path d="M468.50 215.20 Q468.50 214.00 470.15 214.00 Q471.80 214.00 471.80 215.20 L471.72 215.86 L471.34 216.66 L471.72 217.46 L471.80 220.20 Q471.80 221.40 470.15 221.40 Q468.50 221.40 468.50 220.20 L468.58 217.46 L468.96 216.66 L468.58 215.86 Z" fill="#686868" filter="url(#bl3)"/>
<rect x="469.00" y="217.70" width="2.31" height="1.18" fill="#505050" filter="url(#bl3)"/>
<rect x="469.00" y="220.07" width="2.31" height="0.74" fill="#505050" filter="url(#bl3)"/>
<line x1="480.5" y1="223.6" x2="492" y2="223.6" stroke="#3a3a3a" stroke-width="1" />
<text x="486.20" y="232.00" font-size="7" text-anchor="middle" fill="#333" stroke="#333" stroke-width="0.2" textLength="7.4" lengthAdjust="spacingAndGlyphs" >11</text>
<path d="M482.15 214.70 Q482.15 213.50 483.80 213.50 Q485.45 213.50 485.45 214.70 L485.37 215.54 L484.99 216.34 L485.37 217.14 L485.45 220.20 Q485.45 221.40 483.80 221.40 Q482.15 221.40 482.15 220.20 L482.23 217.14 L482.61 216.34 L482.23 215.54 Z" fill="#686868" filter="url(#bl3)"/>
<rect x="482.65" y="217.45" width="2.31" height="1.26" fill="#505050" filter="url(#bl3)"/>
<rect x="482.65" y="219.98" width="2.31" height="0.79" fill="#505050" filter="url(#bl3)"/>
<path d="M489.15 209.90 Q489.15 208.70 490.80 208.70 Q492.45 208.70 492.45 209.90 L492.37 212.47 L491.99 213.27 L492.37 214.07 L492.45 220.20 Q492.45 221.40 490.80 221.40 Q489.15 221.40 489.15 220.20 L489.23 214.07 L489.61 213.27 L489.23 212.47 Z" fill="#686868" filter="url(#bl3)"/>
<rect x="489.65" y="215.05" width="2.31" height="2.03" fill="#505050" filter="url(#bl3)"/>
<rect x="489.65" y="219.11" width="2.31" height="1.27" fill="#505050" filter="url(#bl3)"/>
<line x1="499" y1="223.6" x2="510.5" y2="223.6" stroke="#3a3a3a" stroke-width="1" />
<text x="504.80" y="232.00" font-size="7" text-anchor="middle" fill="#333" stroke="#333" stroke-width="0.2" textLength="7.4" lengthAdjust="spacingAndGlyphs" >12</text>
<path d="M500.40 213.70 Q500.40 212.50 502.05 212.50 Q503.70 212.50 503.70 213.70 L503.62 214.90 L503.24 215.70 L503.62 216.50 L503.70 220.20 Q503.70 221.40 502.05 221.40 Q500.40 221.40 500.40 220.20 L500.48 216.50 L500.86 215.70 L500.48 214.90 Z" fill="#686868" filter="url(#bl3)"/>
<rect x="500.90" y="216.95" width="2.31" height="1.42" fill="#505050" filter="url(#bl3)"/>
<rect x="500.90" y="219.80" width="2.31" height="0.89" fill="#505050" filter="url(#bl3)"/>
<path d="M505.90 213.70 Q505.90 212.50 507.55 212.50 Q509.20 212.50 509.20 213.70 L509.12 214.90 L508.74 215.70 L509.12 216.50 L509.20 220.20 Q509.20 221.40 507.55 221.40 Q505.90 221.40 505.90 220.20 L505.98 216.50 L506.36 215.70 L505.98 214.90 Z" fill="#686868" filter="url(#bl3)"/>
<rect x="506.40" y="216.95" width="2.31" height="1.42" fill="#505050" filter="url(#bl3)"/>
<rect x="506.40" y="219.80" width="2.31" height="0.89" fill="#505050" filter="url(#bl3)"/>
<line x1="388.8" y1="244.0" x2="400" y2="244.0" stroke="#3a3a3a" stroke-width="1" />
<text x="394.50" y="251.40" font-size="7" text-anchor="middle" fill="#333" stroke="#333" stroke-width="0.2" textLength="7.4" lengthAdjust="spacingAndGlyphs" >13</text>
<path d="M390.10 241.60 L390.10 238.13 Q390.10 235.30 391.75 235.30 Q393.40 235.30 393.40 238.13 L393.40 241.60 Z" fill="#8a8a8a" filter="url(#bl3)"/>
<rect x="390.30" y="238.45" width="2.90" height="2.20" fill="#555" filter="url(#bl3)"/>
<path d="M395.60 241.60 L395.60 238.13 Q395.60 235.30 397.25 235.30 Q398.90 235.30 398.90 238.13 L398.90 241.60 Z" fill="#8a8a8a" filter="url(#bl3)"/>
<rect x="395.80" y="238.45" width="2.90" height="2.20" fill="#555" filter="url(#bl3)"/>
<line x1="406.3" y1="244.0" x2="418" y2="244.0" stroke="#3a3a3a" stroke-width="1" />
<text x="411.90" y="251.40" font-size="7" text-anchor="middle" fill="#333" stroke="#333" stroke-width="0.2" textLength="7.4" lengthAdjust="spacingAndGlyphs" >14</text>
<path d="M407.50 241.60 L407.50 238.13 Q407.50 235.30 409.15 235.30 Q410.80 235.30 410.80 238.13 L410.80 241.60 Z" fill="#8a8a8a" filter="url(#bl3)"/>
<rect x="407.70" y="238.45" width="2.90" height="2.20" fill="#555" filter="url(#bl3)"/>
<path d="M413.00 241.60 L413.00 238.13 Q413.00 235.30 414.65 235.30 Q416.30 235.30 416.30 238.13 L416.30 241.60 Z" fill="#8a8a8a" filter="url(#bl3)"/>
<rect x="413.20" y="238.45" width="2.90" height="2.20" fill="#555" filter="url(#bl3)"/>
<line x1="423.3" y1="244.0" x2="435" y2="244.0" stroke="#3a3a3a" stroke-width="1" />
<text x="428.80" y="251.40" font-size="7" text-anchor="middle" fill="#333" stroke="#333" stroke-width="0.2" textLength="7.4" lengthAdjust="spacingAndGlyphs" >15</text>
<path d="M424.40 241.60 L424.40 238.13 Q424.40 235.30 426.05 235.30 Q427.70 235.30 427.70 238.13 L427.70 241.60 Z" fill="#8a8a8a" filter="url(#bl3)"/>
<rect x="424.60" y="238.45" width="2.90" height="2.20" fill="#555" filter="url(#bl3)"/>
<path d="M429.90 241.60 L429.90 238.13 Q429.90 235.30 431.55 235.30 Q433.20 235.30 433.20 238.13 L433.20 241.60 Z" fill="#8a8a8a" filter="url(#bl3)"/>
<rect x="430.10" y="238.45" width="2.90" height="2.20" fill="#555" filter="url(#bl3)"/>
<line x1="464.3" y1="244.0" x2="476.2" y2="244.0" stroke="#3a3a3a" stroke-width="1" />
<text x="470.50" y="251.40" font-size="7" text-anchor="middle" fill="#333" stroke="#333" stroke-width="0.2" textLength="7.4" lengthAdjust="spacingAndGlyphs" >16</text>
<path d="M466.10 241.60 L466.10 238.79 Q466.10 236.50 467.75 236.50 Q469.40 236.50 469.40 238.79 L469.40 241.60 Z" fill="#8a8a8a" filter="url(#bl3)"/>
<rect x="466.30" y="239.05" width="2.90" height="1.78" fill="#555" filter="url(#bl3)"/>
<path d="M471.60 241.60 L471.60 238.79 Q471.60 236.50 473.25 236.50 Q474.90 236.50 474.90 238.79 L474.90 241.60 Z" fill="#8a8a8a" filter="url(#bl3)"/>
<rect x="471.80" y="239.05" width="2.90" height="1.78" fill="#555" filter="url(#bl3)"/>
<line x1="482" y1="244.0" x2="493.5" y2="244.0" stroke="#3a3a3a" stroke-width="1" />
<text x="487.70" y="251.40" font-size="7" text-anchor="middle" fill="#333" stroke="#333" stroke-width="0.2" textLength="7.4" lengthAdjust="spacingAndGlyphs" >17</text>
<path d="M483.30 241.60 L483.30 238.79 Q483.30 236.50 484.95 236.50 Q486.60 236.50 486.60 238.79 L486.60 241.60 Z" fill="#8a8a8a" filter="url(#bl3)"/>
<rect x="483.50" y="239.05" width="2.90" height="1.78" fill="#555" filter="url(#bl3)"/>
<path d="M488.80 241.60 L488.80 238.79 Q488.80 236.50 490.45 236.50 Q492.10 236.50 492.10 238.79 L492.10 241.60 Z" fill="#8a8a8a" filter="url(#bl3)"/>
<rect x="489.00" y="239.05" width="2.90" height="1.78" fill="#555" filter="url(#bl3)"/>
<line x1="499" y1="244.0" x2="510.5" y2="244.0" stroke="#3a3a3a" stroke-width="1" />
<text x="504.60" y="251.40" font-size="7" text-anchor="middle" fill="#333" stroke="#333" stroke-width="0.2" textLength="7.4" lengthAdjust="spacingAndGlyphs" >18</text>
<path d="M500.20 241.60 L500.20 238.79 Q500.20 236.50 501.85 236.50 Q503.50 236.50 503.50 238.79 L503.50 241.60 Z" fill="#8a8a8a" filter="url(#bl3)"/>
<rect x="500.40" y="239.05" width="2.90" height="1.78" fill="#555" filter="url(#bl3)"/>
<path d="M505.70 241.60 L505.70 238.79 Q505.70 236.50 507.35 236.50 Q509.00 236.50 509.00 238.79 L509.00 241.60 Z" fill="#8a8a8a" filter="url(#bl3)"/>
<rect x="505.90" y="239.05" width="2.90" height="1.78" fill="#555" filter="url(#bl3)"/>
<line x1="388.8" y1="266.2" x2="400" y2="266.2" stroke="#3a3a3a" stroke-width="1" />
<text x="394.50" y="273.60" font-size="7" text-anchor="middle" fill="#333" stroke="#333" stroke-width="0.2" textLength="7.4" lengthAdjust="spacingAndGlyphs" >19</text>
<path d="M390.43 260.60 L393.07 263.80 M393.07 260.60 L390.43 263.80" stroke="#555" stroke-width="1.1" fill="none" filter="url(#bl3)"/>
<path d="M395.93 260.60 L398.57 263.80 M398.57 260.60 L395.93 263.80" stroke="#555" stroke-width="1.1" fill="none" filter="url(#bl3)"/>
<line x1="404.3" y1="266.2" x2="415.8" y2="266.2" stroke="#3a3a3a" stroke-width="1" />
<text x="410.00" y="273.60" font-size="7" text-anchor="middle" fill="#333" stroke="#333" stroke-width="0.2" textLength="7.4" lengthAdjust="spacingAndGlyphs" >20</text>
<path d="M405.93 260.60 L408.57 263.80 M408.57 260.60 L405.93 263.80" stroke="#555" stroke-width="1.1" fill="none" filter="url(#bl3)"/>
<path d="M411.43 260.60 L414.07 263.80 M414.07 260.60 L411.43 263.80" stroke="#555" stroke-width="1.1" fill="none" filter="url(#bl3)"/>
<line x1="438.5" y1="266.2" x2="450.2" y2="266.2" stroke="#3a3a3a" stroke-width="1" />
<text x="444.60" y="273.60" font-size="7" text-anchor="middle" fill="#333" stroke="#333" stroke-width="0.2" textLength="7.4" lengthAdjust="spacingAndGlyphs" >21</text>
<ellipse cx="441.85" cy="262.60" rx="1.39" ry="1.80" fill="#555" filter="url(#bl3)"/>
<ellipse cx="447.35" cy="262.60" rx="1.39" ry="1.80" fill="#555" filter="url(#bl3)"/>
<line x1="455" y1="266.2" x2="466.5" y2="266.2" stroke="#3a3a3a" stroke-width="1" />
<text x="460.80" y="273.60" font-size="7" text-anchor="middle" fill="#333" stroke="#333" stroke-width="0.2" textLength="7.4" lengthAdjust="spacingAndGlyphs" >22</text>
<ellipse cx="458.05" cy="262.60" rx="1.39" ry="1.80" fill="#555" filter="url(#bl3)"/>
<ellipse cx="463.55" cy="262.60" rx="1.39" ry="1.80" fill="#555" filter="url(#bl3)"/>
<line x1="489.2" y1="266.2" x2="500.8" y2="266.2" stroke="#3a3a3a" stroke-width="1" />
<text x="495.40" y="273.60" font-size="7" text-anchor="middle" fill="#333" stroke="#333" stroke-width="0.2" textLength="3.9" lengthAdjust="spacingAndGlyphs" >X</text>
<path d="M491.00 255.40 Q491.00 254.20 492.65 254.20 Q494.30 254.20 494.30 255.40 L494.22 256.86 L493.84 257.66 L494.22 258.46 L494.30 262.60 Q494.30 263.80 492.65 263.80 Q491.00 263.80 491.00 262.60 L491.08 258.46 L491.46 257.66 L491.08 256.86 Z" fill="#686868" filter="url(#bl3)"/>
<rect x="491.50" y="259.00" width="2.31" height="1.54" fill="#505050" filter="url(#bl3)"/>
<rect x="491.50" y="262.07" width="2.31" height="0.96" fill="#505050" filter="url(#bl3)"/>
<path d="M496.50 255.40 Q496.50 254.20 498.15 254.20 Q499.80 254.20 499.80 255.40 L499.72 256.86 L499.34 257.66 L499.72 258.46 L499.80 262.60 Q499.80 263.80 498.15 263.80 Q496.50 263.80 496.50 262.60 L496.58 258.46 L496.96 257.66 L496.58 256.86 Z" fill="#686868" filter="url(#bl3)"/>
<rect x="497.00" y="259.00" width="2.31" height="1.54" fill="#505050" filter="url(#bl3)"/>
<rect x="497.00" y="262.07" width="2.31" height="0.96" fill="#505050" filter="url(#bl3)"/>
<line x1="505.8" y1="266.2" x2="510.5" y2="266.2" stroke="#3a3a3a" stroke-width="1" />
<text x="508.00" y="273.60" font-size="7" text-anchor="middle" fill="#333" stroke="#333" stroke-width="0.2" textLength="3.9" lengthAdjust="spacingAndGlyphs" >Y</text>
<rect x="485.2" y="186" width="5.600000000000023" height="10.5" fill="none" stroke="#333" stroke-width="0.8"/>
<rect x="486.3" y="205.4" width="7.199999999999989" height="17.299999999999983" fill="none" stroke="#333" stroke-width="0.8"/>
<text x="421.70" y="337.30" font-size="9" fill="#333" stroke="#333" stroke-width="0.2" textLength="29.5" lengthAdjust="spacingAndGlyphs" >FL: MLL</text>
<text x="451.80" y="333.80" font-size="5.6" fill="#333" stroke="#333" stroke-width="0.2" textLength="8.2" lengthAdjust="spacingAndGlyphs" >i12</text>
<text x="460.50" y="337.30" font-size="9" fill="#333" stroke="#333" stroke-width="0.2" textLength="15.3" lengthAdjust="spacingAndGlyphs" >AF4</text>
<rect x="386" y="342.5" width="127.20000000000005" height="106.89999999999998" fill="none" stroke="#505050" stroke-width="1.1"/>
<line x1="389.5" y1="369.3" x2="401.2" y2="369.3" stroke="#3a3a3a" stroke-width="1" />
<text x="395.30" y="376.40" font-size="7" text-anchor="middle" fill="#333" stroke="#333" stroke-width="0.2" textLength="3.9" lengthAdjust="spacingAndGlyphs" >1</text>
<path d="M391.15 356.70 Q391.15 355.50 392.55 355.50 Q393.95 355.50 393.95 356.70 L393.88 358.66 L393.56 359.46 L393.88 360.26 L393.95 365.30 Q393.95 366.50 392.55 366.50 Q391.15 366.50 391.15 365.30 L391.22 360.26 L391.54 359.46 L391.22 358.66 Z" fill="#7a7a7a" filter="url(#bl3)"/>
<rect x="391.57" y="361.00" width="1.96" height="1.76" fill="#505050" filter="url(#bl3)"/>
<rect x="391.57" y="364.52" width="1.96" height="1.10" fill="#505050" filter="url(#bl3)"/>
<path d="M396.65 356.70 Q396.65 355.50 398.05 355.50 Q399.45 355.50 399.45 356.70 L399.38 358.66 L399.06 359.46 L399.38 360.26 L399.45 365.30 Q399.45 366.50 398.05 366.50 Q396.65 366.50 396.65 365.30 L396.72 360.26 L397.04 359.46 L396.72 358.66 Z" fill="#7a7a7a" filter="url(#bl3)"/>
<rect x="397.07" y="361.00" width="1.96" height="1.76" fill="#505050" filter="url(#bl3)"/>
<rect x="397.07" y="364.52" width="1.96" height="1.10" fill="#505050" filter="url(#bl3)"/>
<line x1="408.8" y1="369.3" x2="420.7" y2="369.3" stroke="#3a3a3a" stroke-width="1" />
<text x="414.70" y="376.40" font-size="7" text-anchor="middle" fill="#333" stroke="#333" stroke-width="0.2" textLength="3.9" lengthAdjust="spacingAndGlyphs" >2</text>
<path d="M410.55 356.70 Q410.55 355.50 411.95 355.50 Q413.35 355.50 413.35 356.70 L413.28 358.66 L412.96 359.46 L413.28 360.26 L413.35 365.30 Q413.35 366.50 411.95 366.50 Q410.55 366.50 410.55 365.30 L410.62 360.26 L410.94 359.46 L410.62 358.66 Z" fill="#7a7a7a" filter="url(#bl3)"/>
<rect x="410.97" y="361.00" width="1.96" height="1.76" fill="#505050" filter="url(#bl3)"/>
<rect x="410.97" y="364.52" width="1.96" height="1.10" fill="#505050" filter="url(#bl3)"/>
<path d="M416.05 356.70 Q416.05 355.50 417.45 355.50 Q418.85 355.50 418.85 356.70 L418.78 358.66 L418.46 359.46 L418.78 360.26 L418.85 365.30 Q418.85 366.50 417.45 366.50 Q416.05 366.50 416.05 365.30 L416.12 360.26 L416.44 359.46 L416.12 358.66 Z" fill="#7a7a7a" filter="url(#bl3)"/>
<rect x="416.47" y="361.00" width="1.96" height="1.76" fill="#505050" filter="url(#bl3)"/>
<rect x="416.47" y="364.52" width="1.96" height="1.10" fill="#505050" filter="url(#bl3)"/>
<line x1="428.5" y1="369.3" x2="440.5" y2="369.3" stroke="#3a3a3a" stroke-width="1" />
<text x="434.50" y="376.40" font-size="7" text-anchor="middle" fill="#333" stroke="#333" stroke-width="0.2" textLength="3.9" lengthAdjust="spacingAndGlyphs" >3</text>
<path d="M430.35 358.20 Q430.35 357.00 431.75 357.00 Q433.15 357.00 433.15 358.20 L433.08 359.62 L432.76 360.42 L433.08 361.22 L433.15 365.30 Q433.15 366.50 431.75 366.50 Q430.35 366.50 430.35 365.30 L430.42 361.22 L430.74 360.42 L430.42 359.62 Z" fill="#7a7a7a" filter="url(#bl3)"/>
<rect x="430.77" y="361.75" width="1.96" height="1.52" fill="#505050" filter="url(#bl3)"/>
<rect x="430.77" y="364.79" width="1.96" height="0.95" fill="#505050" filter="url(#bl3)"/>
<path d="M435.85 358.20 Q435.85 357.00 437.25 357.00 Q438.65 357.00 438.65 358.20 L438.58 359.62 L438.26 360.42 L438.58 361.22 L438.65 365.30 Q438.65 366.50 437.25 366.50 Q435.85 366.50 435.85 365.30 L435.92 361.22 L436.24 360.42 L435.92 359.62 Z" fill="#7a7a7a" filter="url(#bl3)"/>
<rect x="436.27" y="361.75" width="1.96" height="1.52" fill="#505050" filter="url(#bl3)"/>
<rect x="436.27" y="364.79" width="1.96" height="0.95" fill="#505050" filter="url(#bl3)"/>
<line x1="479.5" y1="369.3" x2="492.5" y2="369.3" stroke="#3a3a3a" stroke-width="1" />
<text x="485.00" y="376.40" font-size="7" text-anchor="middle" fill="#333" stroke="#333" stroke-width="0.2" textLength="3.9" lengthAdjust="spacingAndGlyphs" >4</text>
<path d="M480.60 359.10 Q480.60 357.90 482.00 357.90 Q483.40 357.90 483.40 359.10 L483.33 360.20 L483.01 361.00 L483.33 361.80 L483.40 365.30 Q483.40 366.50 482.00 366.50 Q480.60 366.50 480.60 365.30 L480.67 361.80 L480.99 361.00 L480.67 360.20 Z" fill="#7a7a7a" filter="url(#bl3)"/>
<rect x="481.02" y="362.20" width="1.96" height="1.38" fill="#505050" filter="url(#bl3)"/>
<rect x="481.02" y="364.95" width="1.96" height="0.86" fill="#505050" filter="url(#bl3)"/>
<path d="M487.18 362.00 L489.42 366.50 M489.42 362.00 L487.18 366.50" stroke="#555" stroke-width="1.1" fill="none" filter="url(#bl3)"/>
<line x1="499" y1="369.3" x2="511" y2="369.3" stroke="#3a3a3a" stroke-width="1" />
<text x="504.40" y="376.40" font-size="7" text-anchor="middle" fill="#333" stroke="#333" stroke-width="0.2" textLength="3.9" lengthAdjust="spacingAndGlyphs" >5</text>
<path d="M500.25 358.20 Q500.25 357.00 501.65 357.00 Q503.05 357.00 503.05 358.20 L502.98 359.62 L502.66 360.42 L502.98 361.22 L503.05 365.30 Q503.05 366.50 501.65 366.50 Q500.25 366.50 500.25 365.30 L500.32 361.22 L500.64 360.42 L500.32 359.62 Z" fill="#7a7a7a" filter="url(#bl3)"/>
<rect x="500.67" y="361.75" width="1.96" height="1.52" fill="#505050" filter="url(#bl3)"/>
<rect x="500.67" y="364.79" width="1.96" height="0.95" fill="#505050" filter="url(#bl3)"/>
<path d="M505.75 358.20 Q505.75 357.00 507.15 357.00 Q508.55 357.00 508.55 358.20 L508.48 359.62 L508.16 360.42 L508.48 361.22 L508.55 365.30 Q508.55 366.50 507.15 366.50 Q505.75 366.50 505.75 365.30 L505.82 361.22 L506.14 360.42 L505.82 359.62 Z" fill="#7a7a7a" filter="url(#bl3)"/>
<rect x="506.17" y="361.75" width="1.96" height="1.52" fill="#505050" filter="url(#bl3)"/>
<rect x="506.17" y="364.79" width="1.96" height="0.95" fill="#505050" filter="url(#bl3)"/>
<line x1="389" y1="391.4" x2="400.5" y2="391.4" stroke="#3a3a3a" stroke-width="1" />
<text x="394.80" y="398.80" font-size="7" text-anchor="middle" fill="#333" stroke="#333" stroke-width="0.2" textLength="3.9" lengthAdjust="spacingAndGlyphs" >6</text>
<path d="M390.65 383.20 Q390.65 382.00 392.05 382.00 Q393.45 382.00 393.45 383.20 L393.38 383.79 L393.06 384.59 L393.38 385.39 L393.45 388.00 Q393.45 389.20 392.05 389.20 Q390.65 389.20 390.65 388.00 L390.72 385.39 L391.04 384.59 L390.72 383.79 Z" fill="#7a7a7a" filter="url(#bl3)"/>
<rect x="391.07" y="385.60" width="1.96" height="1.15" fill="#505050" filter="url(#bl3)"/>
<rect x="391.07" y="387.90" width="1.96" height="0.72" fill="#505050" filter="url(#bl3)"/>
<path d="M396.15 383.20 Q396.15 382.00 397.55 382.00 Q398.95 382.00 398.95 383.20 L398.88 383.79 L398.56 384.59 L398.88 385.39 L398.95 388.00 Q398.95 389.20 397.55 389.20 Q396.15 389.20 396.15 388.00 L396.22 385.39 L396.54 384.59 L396.22 383.79 Z" fill="#7a7a7a" filter="url(#bl3)"/>
<rect x="396.57" y="385.60" width="1.96" height="1.15" fill="#505050" filter="url(#bl3)"/>
<rect x="396.57" y="387.90" width="1.96" height="0.72" fill="#505050" filter="url(#bl3)"/>
<line x1="407" y1="391.4" x2="418.5" y2="391.4" stroke="#3a3a3a" stroke-width="1" />
<text x="412.70" y="398.80" font-size="7" text-anchor="middle" fill="#333" stroke="#333" stroke-width="0.2" textLength="3.9" lengthAdjust="spacingAndGlyphs" >7</text>
<path d="M408.55 383.20 Q408.55 382.00 409.95 382.00 Q411.35 382.00 411.35 383.20 L411.28 383.79 L410.96 384.59 L411.28 385.39 L411.35 388.00 Q411.35 389.20 409.95 389.20 Q408.55 389.20 408.55 388.00 L408.62 385.39 L408.94 384.59 L408.62 383.79 Z" fill="#7a7a7a" filter="url(#bl3)"/>
<rect x="408.97" y="385.60" width="1.96" height="1.15" fill="#505050" filter="url(#bl3)"/>
<rect x="408.97" y="387.90" width="1.96" height="0.72" fill="#505050" filter="url(#bl3)"/>
<path d="M414.05 383.20 Q414.05 382.00 415.45 382.00 Q416.85 382.00 416.85 383.20 L416.78 383.79 L416.46 384.59 L416.78 385.39 L416.85 388.00 Q416.85 389.20 415.45 389.20 Q414.05 389.20 414.05 388.00 L414.12 385.39 L414.44 384.59 L414.12 383.79 Z" fill="#7a7a7a" filter="url(#bl3)"/>
<rect x="414.47" y="385.60" width="1.96" height="1.15" fill="#505050" filter="url(#bl3)"/>
<rect x="414.47" y="387.90" width="1.96" height="0.72" fill="#505050" filter="url(#bl3)"/>
<line x1="425.5" y1="391.4" x2="437" y2="391.4" stroke="#3a3a3a" stroke-width="1" />
<text x="431.20" y="398.80" font-size="7" text-anchor="middle" fill="#333" stroke="#333" stroke-width="0.2" textLength="3.9" lengthAdjust="spacingAndGlyphs" >8</text>
<path d="M427.05 383.20 Q427.05 382.00 428.45 382.00 Q429.85 382.00 429.85 383.20 L429.78 383.79 L429.46 384.59 L429.78 385.39 L429.85 388.00 Q429.85 389.20 428.45 389.20 Q427.05 389.20 427.05 388.00 L427.12 385.39 L427.44 384.59 L427.12 383.79 Z" fill="#7a7a7a" filter="url(#bl3)"/>
<rect x="427.47" y="385.60" width="1.96" height="1.15" fill="#505050" filter="url(#bl3)"/>
<rect x="427.47" y="387.90" width="1.96" height="0.72" fill="#505050" filter="url(#bl3)"/>
<path d="M432.55 383.20 Q432.55 382.00 433.95 382.00 Q435.35 382.00 435.35 383.20 L435.28 383.79 L434.96 384.59 L435.28 385.39 L435.35 388.00 Q435.35 389.20 433.95 389.20 Q432.55 389.20 432.55 388.00 L432.62 385.39 L432.94 384.59 L432.62 383.79 Z" fill="#7a7a7a" filter="url(#bl3)"/>
<rect x="432.97" y="385.60" width="1.96" height="1.15" fill="#505050" filter="url(#bl3)"/>
<rect x="432.97" y="387.90" width="1.96" height="0.72" fill="#505050" filter="url(#bl3)"/>
<line x1="443.3" y1="391.4" x2="454.7" y2="391.4" stroke="#3a3a3a" stroke-width="1" />
<text x="448.80" y="398.80" font-size="7" text-anchor="middle" fill="#333" stroke="#333" stroke-width="0.2" textLength="3.9" lengthAdjust="spacingAndGlyphs" >9</text>
<path d="M444.65 383.20 Q444.65 382.00 446.05 382.00 Q447.45 382.00 447.45 383.20 L447.38 383.79 L447.06 384.59 L447.38 385.39 L447.45 388.00 Q447.45 389.20 446.05 389.20 Q444.65 389.20 444.65 388.00 L444.72 385.39 L445.04 384.59 L444.72 383.79 Z" fill="#7a7a7a" filter="url(#bl3)"/>
<rect x="445.07" y="385.60" width="1.96" height="1.15" fill="#505050" filter="url(#bl3)"/>
<rect x="445.07" y="387.90" width="1.96" height="0.72" fill="#505050" filter="url(#bl3)"/>
<path d="M450.15 383.20 Q450.15 382.00 451.55 382.00 Q452.95 382.00 452.95 383.20 L452.88 383.79 L452.56 384.59 L452.88 385.39 L452.95 388.00 Q452.95 389.20 451.55 389.20 Q450.15 389.20 450.15 388.00 L450.22 385.39 L450.54 384.59 L450.22 383.79 Z" fill="#7a7a7a" filter="url(#bl3)"/>
<rect x="450.57" y="385.60" width="1.96" height="1.15" fill="#505050" filter="url(#bl3)"/>
<rect x="450.57" y="387.90" width="1.96" height="0.72" fill="#505050" filter="url(#bl3)"/>
<line x1="462" y1="391.4" x2="473.5" y2="391.4" stroke="#3a3a3a" stroke-width="1" />
<text x="467.70" y="398.80" font-size="7" text-anchor="middle" fill="#333" stroke="#333" stroke-width="0.2" textLength="7.4" lengthAdjust="spacingAndGlyphs" >10</text>
<path d="M463.55 383.20 Q463.55 382.00 464.95 382.00 Q466.35 382.00 466.35 383.20 L466.28 383.79 L465.96 384.59 L466.28 385.39 L466.35 388.00 Q466.35 389.20 464.95 389.20 Q463.55 389.20 463.55 388.00 L463.62 385.39 L463.94 384.59 L463.62 383.79 Z" fill="#7a7a7a" filter="url(#bl3)"/>
<rect x="463.97" y="385.60" width="1.96" height="1.15" fill="#505050" filter="url(#bl3)"/>
<rect x="463.97" y="387.90" width="1.96" height="0.72" fill="#505050" filter="url(#bl3)"/>
<path d="M469.05 383.20 Q469.05 382.00 470.45 382.00 Q471.85 382.00 471.85 383.20 L471.78 383.79 L471.46 384.59 L471.78 385.39 L471.85 388.00 Q471.85 389.20 470.45 389.20 Q469.05 389.20 469.05 388.00 L469.12 385.39 L469.44 384.59 L469.12 383.79 Z" fill="#7a7a7a" filter="url(#bl3)"/>
<rect x="469.47" y="385.60" width="1.96" height="1.15" fill="#505050" filter="url(#bl3)"/>
<rect x="469.47" y="387.90" width="1.96" height="0.72" fill="#505050" filter="url(#bl3)"/>
<line x1="480.5" y1="391.4" x2="492" y2="391.4" stroke="#3a3a3a" stroke-width="1" />
<text x="486.00" y="398.80" font-size="7" text-anchor="middle" fill="#333" stroke="#333" stroke-width="0.2" textLength="7.4" lengthAdjust="spacingAndGlyphs" >11</text>
<path d="M480.70 385.10 Q480.70 383.90 482.10 383.90 Q483.50 383.90 483.50 385.10 L483.43 385.01 L483.11 385.81 L483.43 386.61 L483.50 388.00 Q483.50 389.20 482.10 389.20 Q480.70 389.20 480.70 388.00 L480.77 386.61 L481.09 385.81 L480.77 385.01 Z" fill="#7a7a7a" filter="url(#bl3)"/>
<rect x="481.12" y="386.55" width="1.96" height="0.85" fill="#505050" filter="url(#bl3)"/>
<rect x="481.12" y="388.25" width="1.96" height="0.53" fill="#505050" filter="url(#bl3)"/>
<path d="M488.20 381.20 Q488.20 380.00 489.60 380.00 Q491.00 380.00 491.00 381.20 L490.93 382.51 L490.61 383.31 L490.93 384.11 L491.00 388.00 Q491.00 389.20 489.60 389.20 Q488.20 389.20 488.20 388.00 L488.27 384.11 L488.59 383.31 L488.27 382.51 Z" fill="#7a7a7a" filter="url(#bl3)"/>
<rect x="488.62" y="384.60" width="1.96" height="1.47" fill="#505050" filter="url(#bl3)"/>
<rect x="488.62" y="387.54" width="1.96" height="0.92" fill="#505050" filter="url(#bl3)"/>
<line x1="498.3" y1="391.4" x2="510" y2="391.4" stroke="#3a3a3a" stroke-width="1" />
<text x="504.00" y="398.80" font-size="7" text-anchor="middle" fill="#333" stroke="#333" stroke-width="0.2" textLength="7.4" lengthAdjust="spacingAndGlyphs" >12</text>
<path d="M499.85 383.20 Q499.85 382.00 501.25 382.00 Q502.65 382.00 502.65 383.20 L502.58 383.79 L502.26 384.59 L502.58 385.39 L502.65 388.00 Q502.65 389.20 501.25 389.20 Q499.85 389.20 499.85 388.00 L499.92 385.39 L500.24 384.59 L499.92 383.79 Z" fill="#7a7a7a" filter="url(#bl3)"/>
<rect x="500.27" y="385.60" width="1.96" height="1.15" fill="#505050" filter="url(#bl3)"/>
<rect x="500.27" y="387.90" width="1.96" height="0.72" fill="#505050" filter="url(#bl3)"/>
<path d="M505.35 383.20 Q505.35 382.00 506.75 382.00 Q508.15 382.00 508.15 383.20 L508.08 383.79 L507.76 384.59 L508.08 385.39 L508.15 388.00 Q508.15 389.20 506.75 389.20 Q505.35 389.20 505.35 388.00 L505.42 385.39 L505.74 384.59 L505.42 383.79 Z" fill="#7a7a7a" filter="url(#bl3)"/>
<rect x="505.77" y="385.60" width="1.96" height="1.15" fill="#505050" filter="url(#bl3)"/>
<rect x="505.77" y="387.90" width="1.96" height="0.72" fill="#505050" filter="url(#bl3)"/>
<line x1="389.2" y1="409.3" x2="401.2" y2="409.3" stroke="#3a3a3a" stroke-width="1" />
<text x="394.90" y="416.60" font-size="7" text-anchor="middle" fill="#333" stroke="#333" stroke-width="0.2" textLength="7.4" lengthAdjust="spacingAndGlyphs" >13</text>
<ellipse cx="392.15" cy="404.95" rx="1.18" ry="2.25" fill="#555" filter="url(#bl3)"/>
<ellipse cx="397.65" cy="404.95" rx="1.18" ry="2.25" fill="#555" filter="url(#bl3)"/>
<line x1="406.8" y1="409.3" x2="418.4" y2="409.3" stroke="#3a3a3a" stroke-width="1" />
<text x="412.60" y="416.60" font-size="7" text-anchor="middle" fill="#333" stroke="#333" stroke-width="0.2" textLength="7.4" lengthAdjust="spacingAndGlyphs" >14</text>
<ellipse cx="409.85" cy="404.95" rx="1.18" ry="2.25" fill="#555" filter="url(#bl3)"/>
<ellipse cx="415.35" cy="404.95" rx="1.18" ry="2.25" fill="#555" filter="url(#bl3)"/>
<line x1="424.5" y1="409.3" x2="436" y2="409.3" stroke="#3a3a3a" stroke-width="1" />
<text x="430.20" y="416.60" font-size="7" text-anchor="middle" fill="#333" stroke="#333" stroke-width="0.2" textLength="7.4" lengthAdjust="spacingAndGlyphs" >15</text>
<ellipse cx="427.45" cy="404.95" rx="1.18" ry="2.25" fill="#555" filter="url(#bl3)"/>
<ellipse cx="432.95" cy="404.95" rx="1.18" ry="2.25" fill="#555" filter="url(#bl3)"/>
<line x1="465.4" y1="409.3" x2="477" y2="409.3" stroke="#3a3a3a" stroke-width="1" />
<text x="470.90" y="416.60" font-size="7" text-anchor="middle" fill="#333" stroke="#333" stroke-width="0.2" textLength="7.4" lengthAdjust="spacingAndGlyphs" >16</text>
<ellipse cx="468.15" cy="404.95" rx="1.18" ry="2.25" fill="#555" filter="url(#bl3)"/>
<ellipse cx="473.65" cy="404.95" rx="1.18" ry="2.25" fill="#555" filter="url(#bl3)"/>
<line x1="481.5" y1="409.3" x2="493" y2="409.3" stroke="#3a3a3a" stroke-width="1" />
<text x="487.40" y="416.60" font-size="7" text-anchor="middle" fill="#333" stroke="#333" stroke-width="0.2" textLength="7.4" lengthAdjust="spacingAndGlyphs" >17</text>
<ellipse cx="484.65" cy="404.95" rx="1.18" ry="2.25" fill="#555" filter="url(#bl3)"/>
<ellipse cx="490.15" cy="404.95" rx="1.18" ry="2.25" fill="#555" filter="url(#bl3)"/>
<line x1="498.2" y1="409.3" x2="510" y2="409.3" stroke="#3a3a3a" stroke-width="1" />
<text x="504.10" y="416.60" font-size="7" text-anchor="middle" fill="#333" stroke="#333" stroke-width="0.2" textLength="7.4" lengthAdjust="spacingAndGlyphs" >18</text>
<ellipse cx="501.35" cy="404.95" rx="1.18" ry="2.25" fill="#555" filter="url(#bl3)"/>
<ellipse cx="506.85" cy="404.95" rx="1.18" ry="2.25" fill="#555" filter="url(#bl3)"/>
<line x1="389.2" y1="429.6" x2="401.2" y2="429.6" stroke="#3a3a3a" stroke-width="1" />
<text x="394.90" y="437.10" font-size="7" text-anchor="middle" fill="#333" stroke="#333" stroke-width="0.2" textLength="7.4" lengthAdjust="spacingAndGlyphs" >19</text>
<path d="M391.03 424.30 L393.27 427.00 M393.27 424.30 L391.03 427.00" stroke="#555" stroke-width="1.1" fill="none" filter="url(#bl3)"/>
<path d="M396.53 424.30 L398.77 427.00 M398.77 424.30 L396.53 427.00" stroke="#555" stroke-width="1.1" fill="none" filter="url(#bl3)"/>
<line x1="404.2" y1="429.6" x2="415.8" y2="429.6" stroke="#3a3a3a" stroke-width="1" />
<text x="409.60" y="437.10" font-size="7" text-anchor="middle" fill="#333" stroke="#333" stroke-width="0.2" textLength="7.4" lengthAdjust="spacingAndGlyphs" >20</text>
<path d="M405.73 424.30 L407.97 427.00 M407.97 424.30 L405.73 427.00" stroke="#555" stroke-width="1.1" fill="none" filter="url(#bl3)"/>
<path d="M411.23 424.30 L413.47 427.00 M413.47 424.30 L411.23 427.00" stroke="#555" stroke-width="1.1" fill="none" filter="url(#bl3)"/>
<line x1="437.6" y1="429.6" x2="449.2" y2="429.6" stroke="#3a3a3a" stroke-width="1" />
<text x="443.60" y="437.10" font-size="7" text-anchor="middle" fill="#333" stroke="#333" stroke-width="0.2" textLength="7.4" lengthAdjust="spacingAndGlyphs" >21</text>
<ellipse cx="440.85" cy="425.95" rx="1.18" ry="1.65" fill="#555" filter="url(#bl3)"/>
<ellipse cx="446.35" cy="425.95" rx="1.18" ry="1.65" fill="#555" filter="url(#bl3)"/>
<line x1="453" y1="429.6" x2="464.6" y2="429.6" stroke="#3a3a3a" stroke-width="1" />
<text x="458.80" y="437.10" font-size="7" text-anchor="middle" fill="#333" stroke="#333" stroke-width="0.2" textLength="7.4" lengthAdjust="spacingAndGlyphs" >22</text>
<ellipse cx="456.05" cy="425.95" rx="1.18" ry="1.65" fill="#555" filter="url(#bl3)"/>
<ellipse cx="461.55" cy="425.95" rx="1.18" ry="1.65" fill="#555" filter="url(#bl3)"/>
<line x1="488.5" y1="429.6" x2="500" y2="429.6" stroke="#3a3a3a" stroke-width="1" />
<text x="494.00" y="437.10" font-size="7" text-anchor="middle" fill="#333" stroke="#333" stroke-width="0.2" textLength="3.9" lengthAdjust="spacingAndGlyphs" >X</text>
<path d="M489.85 421.20 Q489.85 420.00 491.25 420.00 Q492.65 420.00 492.65 421.20 L492.58 421.72 L492.26 422.52 L492.58 423.32 L492.65 425.80 Q492.65 427.00 491.25 427.00 Q489.85 427.00 489.85 425.80 L489.92 423.32 L490.24 422.52 L489.92 421.72 Z" fill="#7a7a7a" filter="url(#bl3)"/>
<rect x="490.27" y="423.50" width="1.96" height="1.12" fill="#505050" filter="url(#bl3)"/>
<rect x="490.27" y="425.74" width="1.96" height="0.70" fill="#505050" filter="url(#bl3)"/>
<path d="M495.35 421.20 Q495.35 420.00 496.75 420.00 Q498.15 420.00 498.15 421.20 L498.08 421.72 L497.76 422.52 L498.08 423.32 L498.15 425.80 Q498.15 427.00 496.75 427.00 Q495.35 427.00 495.35 425.80 L495.42 423.32 L495.74 422.52 L495.42 421.72 Z" fill="#7a7a7a" filter="url(#bl3)"/>
<rect x="495.77" y="423.50" width="1.96" height="1.12" fill="#505050" filter="url(#bl3)"/>
<rect x="495.77" y="425.74" width="1.96" height="0.70" fill="#505050" filter="url(#bl3)"/>
<line x1="504.3" y1="429.6" x2="509.2" y2="429.6" stroke="#3a3a3a" stroke-width="1" />
<text x="506.90" y="437.10" font-size="7" text-anchor="middle" fill="#333" stroke="#333" stroke-width="0.2" textLength="3.9" lengthAdjust="spacingAndGlyphs" >Y</text>
<rect x="485.3" y="358.4" width="6.5" height="9.700000000000045" fill="none" stroke="#333" stroke-width="0.8"/>
<rect x="486.7" y="376.9" width="6.0" height="14.0" fill="none" stroke="#333" stroke-width="0.8"/>
<path d="M432.50 284.10 L434.55 288.62 L432.80 294.29 L432.80 306.20 M437.60 284.10 L435.55 288.62 L437.30 294.29 L437.30 306.20" fill="none" stroke="#2a2a2a" stroke-width="2.9" stroke-linecap="round" stroke-linejoin="round" filter="url(#bl2)"/>
<line x1="431.80" y1="297.12" x2="438.30" y2="297.12" stroke="#9a9a9a" stroke-width="0.8" filter="url(#bl2)"/>
<line x1="431.80" y1="301.46" x2="438.30" y2="301.46" stroke="#9a9a9a" stroke-width="0.8" filter="url(#bl2)"/>
<path d="M445.40 294.80 L447.35 298.60 L445.60 306.20 M449.90 294.80 L447.95 298.60 L449.70 306.20" fill="none" stroke="#2a2a2a" stroke-width="2.9" stroke-linecap="round" stroke-linejoin="round" filter="url(#bl2)"/>
<path d="M456.60 294.80 L458.65 299.28 L456.80 306.20 M461.30 294.80 L459.25 299.28 L461.10 306.20" fill="none" stroke="#2a2a2a" stroke-width="2.9" stroke-linecap="round" stroke-linejoin="round" filter="url(#bl2)"/>
<path d="M469.20 285.20 L471.10 289.48 L469.50 294.89 L469.50 306.20 M474.00 285.20 L472.10 289.48 L473.70 294.89 L473.70 306.20" fill="none" stroke="#2a2a2a" stroke-width="2.9" stroke-linecap="round" stroke-linejoin="round" filter="url(#bl2)"/>
<line x1="468.50" y1="297.59" x2="474.70" y2="297.59" stroke="#9a9a9a" stroke-width="0.8" filter="url(#bl2)"/>
<line x1="468.50" y1="301.73" x2="474.70" y2="301.73" stroke="#9a9a9a" stroke-width="0.8" filter="url(#bl2)"/>
<line x1="432.8" y1="311.6" x2="452" y2="311.6" stroke="#333" stroke-width="1" />
<line x1="454.7" y1="311.6" x2="473.2" y2="311.6" stroke="#333" stroke-width="1" />
<text x="442.90" y="319.20" font-size="7" text-anchor="middle" fill="#333" stroke="#333" stroke-width="0.2" textLength="3.9" lengthAdjust="spacingAndGlyphs" >4</text>
<text x="465.10" y="319.20" font-size="7" text-anchor="middle" fill="#333" stroke="#333" stroke-width="0.2" textLength="7.4" lengthAdjust="spacingAndGlyphs" >11</text>
<path d="M431.80 457.80 L433.55 460.34 L432.10 464.35 L432.10 472.40 M436.30 457.80 L434.55 460.34 L436.00 464.35 L436.00 472.40" fill="none" stroke="#3a3a3a" stroke-width="2.9" stroke-linecap="round" stroke-linejoin="round" filter="url(#bl4)"/>
<line x1="431.10" y1="466.35" x2="437.00" y2="466.35" stroke="#9a9a9a" stroke-width="0.8" filter="url(#bl2)"/>
<line x1="431.10" y1="469.42" x2="437.00" y2="469.42" stroke="#9a9a9a" stroke-width="0.8" filter="url(#bl2)"/>
<path d="M445.30 466.00 L447.50 468.48 L445.50 472.40 M450.30 466.00 L448.10 468.48 L450.10 472.40" fill="none" stroke="#3a3a3a" stroke-width="2.9" stroke-linecap="round" stroke-linejoin="round" filter="url(#bl4)"/>
<path d="M456.60 464.00 L458.50 467.28 L456.80 472.40 M461.00 464.00 L459.10 467.28 L460.80 472.40" fill="none" stroke="#3a3a3a" stroke-width="2.9" stroke-linecap="round" stroke-linejoin="round" filter="url(#bl4)"/>
<path d="M470.60 456.70 L472.05 459.46 L470.90 463.73 L470.90 472.40 M474.50 456.70 L473.05 459.46 L474.20 463.73 L474.20 472.40" fill="none" stroke="#3a3a3a" stroke-width="2.9" stroke-linecap="round" stroke-linejoin="round" filter="url(#bl4)"/>
<line x1="469.90" y1="465.87" x2="475.20" y2="465.87" stroke="#9a9a9a" stroke-width="0.8" filter="url(#bl2)"/>
<line x1="469.90" y1="469.14" x2="475.20" y2="469.14" stroke="#9a9a9a" stroke-width="0.8" filter="url(#bl2)"/>
<line x1="432.8" y1="477.8" x2="452" y2="477.8" stroke="#333" stroke-width="1" />
<line x1="454.7" y1="477.8" x2="473.2" y2="477.8" stroke="#333" stroke-width="1" />
<text x="442.90" y="485.40" font-size="7" text-anchor="middle" fill="#333" stroke="#333" stroke-width="0.2" textLength="3.9" lengthAdjust="spacingAndGlyphs" >4</text>
<text x="465.10" y="485.40" font-size="7" text-anchor="middle" fill="#333" stroke="#333" stroke-width="0.2" textLength="7.4" lengthAdjust="spacingAndGlyphs" >11</text>
<text x="7.20" y="326.00" font-size="12" font-weight="bold" fill="#000" stroke="#000" stroke-width="0.1" textLength="7.4" lengthAdjust="spacingAndGlyphs" >E</text>
<text x="88.40" y="339.20" font-size="9.5" text-anchor="middle" fill="#333" stroke="#333" stroke-width="0.2" textLength="9.0" lengthAdjust="spacingAndGlyphs" >FL</text>
<line x1="47.6" y1="356.6" x2="47.6" y2="439.8" stroke="#151515" stroke-width="1.3" />
<line x1="44.5" y1="359.3" x2="47.5" y2="359.3" stroke="#2a2a2a" stroke-width="1" />
<text x="40.80" y="361.60" font-size="6.8" text-anchor="end" fill="#4a4a4a" stroke="#4a4a4a" stroke-width="0.2" textLength="9.6" lengthAdjust="spacingAndGlyphs" >100</text>
<line x1="44.5" y1="375.4" x2="47.5" y2="375.4" stroke="#2a2a2a" stroke-width="1" />
<text x="40.80" y="377.70" font-size="6.8" text-anchor="end" fill="#4a4a4a" stroke="#4a4a4a" stroke-width="0.2" textLength="6.6" lengthAdjust="spacingAndGlyphs" >80</text>
<line x1="44.5" y1="391.3" x2="47.5" y2="391.3" stroke="#2a2a2a" stroke-width="1" />
<text x="40.80" y="393.60" font-size="6.8" text-anchor="end" fill="#4a4a4a" stroke="#4a4a4a" stroke-width="0.2" textLength="6.6" lengthAdjust="spacingAndGlyphs" >60</text>
<line x1="44.5" y1="407.3" x2="47.5" y2="407.3" stroke="#2a2a2a" stroke-width="1" />
<text x="40.80" y="409.60" font-size="6.8" text-anchor="end" fill="#4a4a4a" stroke="#4a4a4a" stroke-width="0.2" textLength="6.6" lengthAdjust="spacingAndGlyphs" >40</text>
<line x1="44.5" y1="423.1" x2="47.5" y2="423.1" stroke="#2a2a2a" stroke-width="1" />
<text x="40.80" y="425.40" font-size="6.8" text-anchor="end" fill="#4a4a4a" stroke="#4a4a4a" stroke-width="0.2" textLength="6.6" lengthAdjust="spacingAndGlyphs" >20</text>
<line x1="44.5" y1="439" x2="47.5" y2="439" stroke="#2a2a2a" stroke-width="1" />
<text x="40.80" y="441.30" font-size="6.8" text-anchor="end" fill="#4a4a4a" stroke="#4a4a4a" stroke-width="0.2" textLength="3.6" lengthAdjust="spacingAndGlyphs" >0</text>
<line x1="47.6" y1="439.3" x2="127" y2="439.3" stroke="#151515" stroke-width="1.05" />
<line x1="60.5" y1="439" x2="60.5" y2="442.2" stroke="#2a2a2a" stroke-width="1" />
<text x="60.50" y="451.40" font-size="6.8" text-anchor="middle" fill="#4a4a4a" stroke="#4a4a4a" stroke-width="0.2" textLength="3.6" lengthAdjust="spacingAndGlyphs" >0</text>
<line x1="87" y1="439" x2="87" y2="442.2" stroke="#2a2a2a" stroke-width="1" />
<text x="87.00" y="451.40" font-size="6.8" text-anchor="middle" fill="#4a4a4a" stroke="#4a4a4a" stroke-width="0.2" textLength="7.0" lengthAdjust="spacingAndGlyphs" >25</text>
<line x1="113.4" y1="439" x2="113.4" y2="442.2" stroke="#2a2a2a" stroke-width="1" />
<text x="113.40" y="451.40" font-size="6.8" text-anchor="middle" fill="#4a4a4a" stroke="#4a4a4a" stroke-width="0.2" textLength="7.0" lengthAdjust="spacingAndGlyphs" >30</text>
<text x="21.20" y="395.00" font-size="8.2" text-anchor="middle" fill="#3a3a3a" stroke="#3a3a3a" stroke-width="0.2" textLength="64.5" lengthAdjust="spacingAndGlyphs" transform="rotate(-90 21.2 395.0) translate(0 2.9)">% MLL-rearranged cells</text>
<rect x="84.20" y="366.80" width="6.60" height="71.70" fill="#f28c00" />
<rect x="92.80" y="401.60" width="6.40" height="36.90" fill="#2aa5e0" />
<rect x="110.70" y="365.20" width="6.40" height="73.30" fill="#f28c00" />
<rect x="119.20" y="367.80" width="6.60" height="70.70" fill="#2aa5e0" />
<ellipse cx="53.6" cy="435.4" rx="1.45" ry="1.85" fill="none" stroke="#2e9a3e" stroke-width="0.8" stroke-opacity="0.6"/>
<ellipse cx="60.5" cy="435.4" rx="1.45" ry="1.85" fill="none" stroke="#f28c00" stroke-width="0.8" stroke-opacity="0.6"/>
<ellipse cx="68" cy="435.4" rx="1.45" ry="1.85" fill="none" stroke="#2aa5e0" stroke-width="0.8" stroke-opacity="0.6"/>
<ellipse cx="78.7" cy="435.4" rx="1.45" ry="1.85" fill="none" stroke="#2e9a3e" stroke-width="0.8" stroke-opacity="0.6"/>
<ellipse cx="106.5" cy="435.4" rx="1.45" ry="1.85" fill="none" stroke="#2e9a3e" stroke-width="0.8" stroke-opacity="0.6"/>
<text x="87.60" y="463.50" font-size="8.8" text-anchor="middle" fill="#404040" stroke="#404040" stroke-width="0.2" textLength="35.0" lengthAdjust="spacingAndGlyphs" >Time (days)</text>
<rect x="45.40" y="474.00" width="5.80" height="3.00" fill="#2e9a3e" />
<text x="54.60" y="477.80" font-size="7" fill="#4a4a4a" stroke="#4a4a4a" stroke-width="0.2" textLength="10.4" lengthAdjust="spacingAndGlyphs" >Ctrl</text>
<rect x="87.00" y="474.00" width="6.20" height="3.00" fill="#f28c00" />
<text x="97.40" y="477.80" font-size="7" fill="#4a4a4a" stroke="#4a4a4a" stroke-width="0.38" textLength="9.6" lengthAdjust="spacingAndGlyphs" >MLL</text>
<text x="107.30" y="474.80" font-size="4.8" fill="#4a4a4a" stroke="#4a4a4a" stroke-width="0.22" textLength="6.6" lengthAdjust="spacingAndGlyphs" >i10</text>
<text x="115.30" y="477.80" font-size="7" fill="#4a4a4a" stroke="#4a4a4a" stroke-width="0.2" textLength="12.3" lengthAdjust="spacingAndGlyphs" >AF4</text>
<rect x="45.40" y="482.80" width="6.20" height="3.00" fill="#2aa5e0" />
<text x="54.60" y="486.60" font-size="7" fill="#4a4a4a" stroke="#4a4a4a" stroke-width="0.38" textLength="9.6" lengthAdjust="spacingAndGlyphs" >MLL</text>
<text x="64.50" y="483.60" font-size="4.8" fill="#4a4a4a" stroke="#4a4a4a" stroke-width="0.22" textLength="6.6" lengthAdjust="spacingAndGlyphs" >i12</text>
<text x="72.50" y="486.60" font-size="7" fill="#4a4a4a" stroke="#4a4a4a" stroke-width="0.2" textLength="12.3" lengthAdjust="spacingAndGlyphs" >AF4</text>
<text x="233.40" y="339.00" font-size="9.5" text-anchor="middle" fill="#333" stroke="#333" stroke-width="0.2" textLength="11.6" lengthAdjust="spacingAndGlyphs" >CB</text>
<line x1="172.9" y1="353.8" x2="172.9" y2="439.3" stroke="#151515" stroke-width="1.3" />
<line x1="170.1" y1="356.1" x2="173.1" y2="356.1" stroke="#2a2a2a" stroke-width="1" />
<text x="165.50" y="358.40" font-size="6.8" text-anchor="end" fill="#4a4a4a" stroke="#4a4a4a" stroke-width="0.2" textLength="9.6" lengthAdjust="spacingAndGlyphs" >100</text>
<line x1="170.1" y1="372.7" x2="173.1" y2="372.7" stroke="#2a2a2a" stroke-width="1" />
<text x="165.50" y="375.00" font-size="6.8" text-anchor="end" fill="#4a4a4a" stroke="#4a4a4a" stroke-width="0.2" textLength="6.6" lengthAdjust="spacingAndGlyphs" >80</text>
<line x1="170.1" y1="389" x2="173.1" y2="389" stroke="#2a2a2a" stroke-width="1" />
<text x="165.50" y="391.30" font-size="6.8" text-anchor="end" fill="#4a4a4a" stroke="#4a4a4a" stroke-width="0.2" textLength="6.6" lengthAdjust="spacingAndGlyphs" >60</text>
<line x1="170.1" y1="405.6" x2="173.1" y2="405.6" stroke="#2a2a2a" stroke-width="1" />
<text x="165.50" y="407.90" font-size="6.8" text-anchor="end" fill="#4a4a4a" stroke="#4a4a4a" stroke-width="0.2" textLength="6.6" lengthAdjust="spacingAndGlyphs" >40</text>
<line x1="170.1" y1="422.2" x2="173.1" y2="422.2" stroke="#2a2a2a" stroke-width="1" />
<text x="165.50" y="424.50" font-size="6.8" text-anchor="end" fill="#4a4a4a" stroke="#4a4a4a" stroke-width="0.2" textLength="6.6" lengthAdjust="spacingAndGlyphs" >20</text>
<line x1="170.1" y1="438.3" x2="173.1" y2="438.3" stroke="#2a2a2a" stroke-width="1" />
<text x="165.50" y="440.60" font-size="6.8" text-anchor="end" fill="#4a4a4a" stroke="#4a4a4a" stroke-width="0.2" textLength="3.6" lengthAdjust="spacingAndGlyphs" >0</text>
<line x1="172.9" y1="438.8" x2="270" y2="438.8" stroke="#151515" stroke-width="1.05" />
<line x1="184.8" y1="438.3" x2="184.8" y2="441.5" stroke="#2a2a2a" stroke-width="1" />
<text x="184.80" y="450.80" font-size="6.8" text-anchor="middle" fill="#4a4a4a" stroke="#4a4a4a" stroke-width="0.2" textLength="3.6" lengthAdjust="spacingAndGlyphs" >0</text>
<line x1="209.4" y1="438.3" x2="209.4" y2="441.5" stroke="#2a2a2a" stroke-width="1" />
<text x="209.40" y="450.80" font-size="6.8" text-anchor="middle" fill="#4a4a4a" stroke="#4a4a4a" stroke-width="0.2" textLength="7.0" lengthAdjust="spacingAndGlyphs" >10</text>
<line x1="234.1" y1="438.3" x2="234.1" y2="441.5" stroke="#2a2a2a" stroke-width="1" />
<text x="234.10" y="450.80" font-size="6.8" text-anchor="middle" fill="#4a4a4a" stroke="#4a4a4a" stroke-width="0.2" textLength="7.0" lengthAdjust="spacingAndGlyphs" >20</text>
<line x1="258.3" y1="438.3" x2="258.3" y2="441.5" stroke="#2a2a2a" stroke-width="1" />
<text x="258.30" y="450.80" font-size="6.8" text-anchor="middle" fill="#4a4a4a" stroke="#4a4a4a" stroke-width="0.2" textLength="7.0" lengthAdjust="spacingAndGlyphs" >30</text>
<text x="147.70" y="393.70" font-size="8.2" text-anchor="middle" fill="#3a3a3a" stroke="#3a3a3a" stroke-width="0.2" textLength="63.5" lengthAdjust="spacingAndGlyphs" transform="rotate(-90 147.7 393.7) translate(0 2.9)">%MLL-rearranged cells</text>
<rect x="206.40" y="403.60" width="6.50" height="34.20" fill="#f28c00" />
<rect x="231.00" y="365.60" width="6.30" height="72.20" fill="#f28c00" />
<rect x="239.10" y="416.10" width="6.10" height="21.70" fill="#2aa5e0" />
<rect x="255.90" y="362.20" width="6.10" height="75.60" fill="#f28c00" />
<rect x="263.20" y="363.20" width="6.60" height="74.60" fill="#2aa5e0" />
<ellipse cx="177.5" cy="435.4" rx="1.45" ry="1.85" fill="none" stroke="#2e9a3e" stroke-width="0.8" stroke-opacity="0.6"/>
<ellipse cx="184.8" cy="435.4" rx="1.45" ry="1.85" fill="none" stroke="#f28c00" stroke-width="0.8" stroke-opacity="0.6"/>
<ellipse cx="191.9" cy="435.4" rx="1.45" ry="1.85" fill="none" stroke="#2aa5e0" stroke-width="0.8" stroke-opacity="0.6"/>
<ellipse cx="202" cy="435.4" rx="1.45" ry="1.85" fill="none" stroke="#2e9a3e" stroke-width="0.8" stroke-opacity="0.6"/>
<ellipse cx="227.2" cy="435.4" rx="1.45" ry="1.85" fill="none" stroke="#2e9a3e" stroke-width="0.8" stroke-opacity="0.6"/>
<ellipse cx="251.9" cy="435.4" rx="1.45" ry="1.85" fill="none" stroke="#2e9a3e" stroke-width="0.8" stroke-opacity="0.6"/>
<text x="222.00" y="463.10" font-size="8.8" text-anchor="middle" fill="#404040" stroke="#404040" stroke-width="0.2" textLength="34.7" lengthAdjust="spacingAndGlyphs" >Time (days)</text>
<rect x="181.20" y="474.00" width="5.80" height="3.00" fill="#2e9a3e" />
<text x="190.30" y="477.60" font-size="7" fill="#4a4a4a" stroke="#4a4a4a" stroke-width="0.2" textLength="10.9" lengthAdjust="spacingAndGlyphs" >Ctrl</text>
<rect x="223.10" y="474.00" width="6.40" height="3.00" fill="#f28c00" />
<text x="232.80" y="477.60" font-size="7" fill="#4a4a4a" stroke="#4a4a4a" stroke-width="0.38" textLength="9.6" lengthAdjust="spacingAndGlyphs" >MLL</text>
<text x="242.70" y="474.60" font-size="4.8" fill="#4a4a4a" stroke="#4a4a4a" stroke-width="0.22" textLength="6.6" lengthAdjust="spacingAndGlyphs" >i10</text>
<text x="250.70" y="477.60" font-size="7" fill="#4a4a4a" stroke="#4a4a4a" stroke-width="0.2" textLength="12.3" lengthAdjust="spacingAndGlyphs" >AF4</text>
<rect x="181.20" y="483.00" width="5.80" height="3.00" fill="#2aa5e0" />
<text x="190.30" y="486.40" font-size="7" fill="#4a4a4a" stroke="#4a4a4a" stroke-width="0.38" textLength="9.6" lengthAdjust="spacingAndGlyphs" >MLL</text>
<text x="200.20" y="483.40" font-size="4.8" fill="#4a4a4a" stroke="#4a4a4a" stroke-width="0.22" textLength="6.6" lengthAdjust="spacingAndGlyphs" >i12</text>
<text x="208.20" y="486.40" font-size="7" fill="#4a4a4a" stroke="#4a4a4a" stroke-width="0.2" textLength="12.3" lengthAdjust="spacingAndGlyphs" >AF4</text>
<rect x="309.00" y="344.00" width="48.60" height="47.80" fill="#050807" />
<ellipse cx="333.7" cy="367.5" rx="13.8" ry="15.6" fill="url(#g1)" filter="url(#bl)"/>
<line x1="348" y1="389.6" x2="355.6" y2="389.6" stroke="#ddd" stroke-width="0.9" />
<rect x="309.00" y="394.00" width="48.60" height="47.60" fill="#040807" />
<ellipse cx="332" cy="419.6" rx="12.2" ry="12.4" fill="url(#g2)" filter="url(#bl)"/>
<line x1="348" y1="439.4" x2="355.6" y2="439.4" stroke="#ddd" stroke-width="0.9" />
<text x="292.20" y="367.00" font-size="7.6" text-anchor="middle" fill="#3a3a3a" stroke="#3a3a3a" stroke-width="0.2" textLength="47.5" lengthAdjust="spacingAndGlyphs" transform="rotate(-90 292.2 367.0) translate(0 2.6)">MLL-rearranged</text>
<text x="302.30" y="365.00" font-size="7.6" text-anchor="middle" fill="#3a3a3a" stroke="#3a3a3a" stroke-width="0.2" textLength="11.0" lengthAdjust="spacingAndGlyphs" transform="rotate(-90 302.3 365.0) translate(0 2.6)">cell</text>
<text x="292.20" y="415.80" font-size="7.6" text-anchor="middle" fill="#3a3a3a" stroke="#3a3a3a" stroke-width="0.2" textLength="38.5" lengthAdjust="spacingAndGlyphs" transform="rotate(-90 292.2 415.8) translate(0 2.6)">MLL-germline</text>
<text x="302.30" y="417.60" font-size="7.6" text-anchor="middle" fill="#3a3a3a" stroke="#3a3a3a" stroke-width="0.2" textLength="11.0" lengthAdjust="spacingAndGlyphs" transform="rotate(-90 302.3 417.6) translate(0 2.6)">cell</text>
<rect x="0.5" y="0.5" width="519" height="494" fill="none" stroke="#4a4a4a" stroke-width="1"/>
</svg></div></body></html>
